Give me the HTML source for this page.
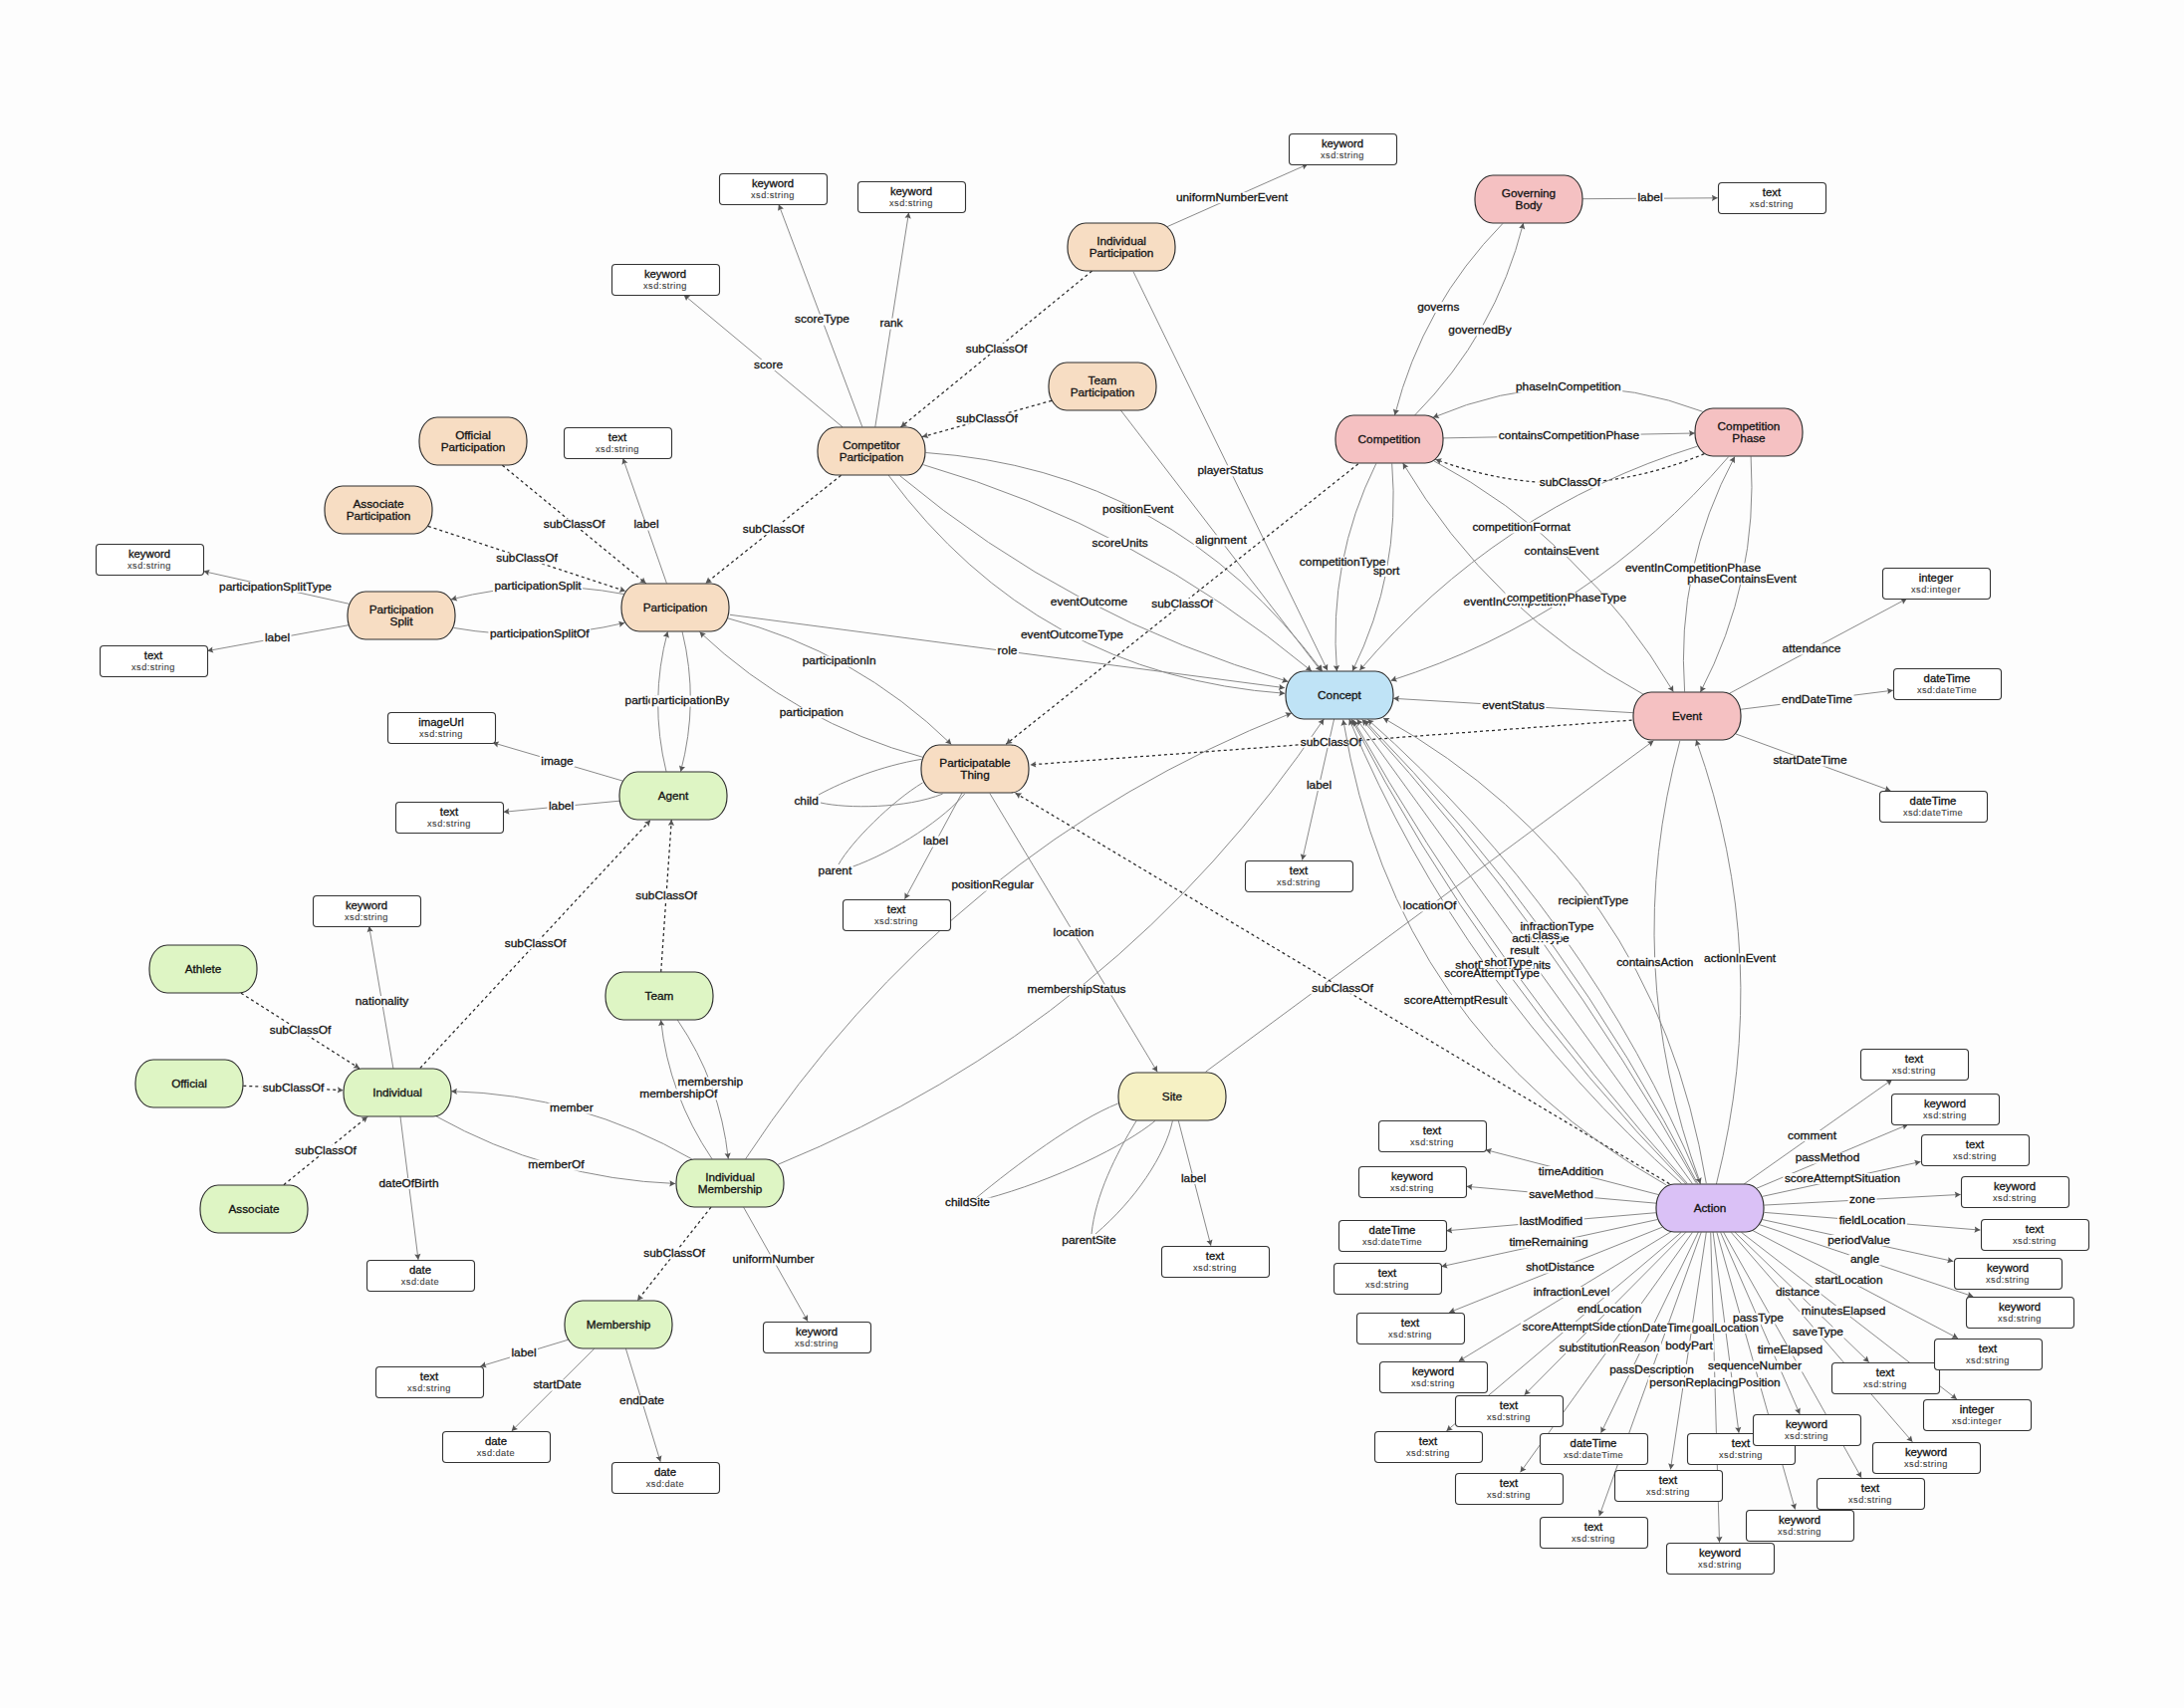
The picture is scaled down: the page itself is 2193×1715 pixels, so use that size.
<!DOCTYPE html><html><head><meta charset="utf-8"><style>html,body{margin:0;padding:0;background:#fdfdfd;}svg{display:block;}</style></head><body><svg width="2193" height="1715" viewBox="0 0 2193 1715" font-family="Liberation Sans, sans-serif"><rect x="0" y="0" width="2193" height="1715" fill="#fdfdfd"/><g><path d="M504.4 467.2Q576.5 526.5 648.6 585.8" fill="none" stroke="#2a2a2a" stroke-width="1.25" stroke-dasharray="3 3"/><path d="M429.9 528.4Q529.0 561.0 628.1 593.6" fill="none" stroke="#2a2a2a" stroke-width="1.25" stroke-dasharray="3 3"/><path d="M844.5 477.3Q776.5 531.5 708.5 585.7" fill="none" stroke="#2a2a2a" stroke-width="1.25" stroke-dasharray="3 3"/><path d="M1096.5 272.1Q1000.5 350.5 904.5 428.9" fill="none" stroke="#2a2a2a" stroke-width="1.25" stroke-dasharray="3 3"/><path d="M1056.0 402.3Q991.0 420.5 926.0 438.7" fill="none" stroke="#2a2a2a" stroke-width="1.25" stroke-dasharray="3 3"/><path d="M669.4 585.6Q647.5 522.9 625.5 460.2" fill="none" stroke="#8a8a8a" stroke-width="1.00"/><path d="M626.1 596.5Q539.1 579.7 452.9 601.9" fill="none" stroke="#8a8a8a" stroke-width="1.00"/><path d="M455.4 630.4Q542.3 645.7 627.2 625.4" fill="none" stroke="#8a8a8a" stroke-width="1.00"/><path d="M350.5 606.3Q277.4 590.0 204.4 573.6" fill="none" stroke="#8a8a8a" stroke-width="1.00"/><path d="M350.1 627.7Q279.1 640.6 208.2 653.6" fill="none" stroke="#8a8a8a" stroke-width="1.00"/><path d="M846.0 428.8Q766.3 362.4 686.6 296.0" fill="none" stroke="#8a8a8a" stroke-width="1.00"/><path d="M865.8 428.6Q823.9 317.0 781.9 205.3" fill="none" stroke="#8a8a8a" stroke-width="1.00"/><path d="M878.8 428.7Q895.7 321.1 912.5 213.5" fill="none" stroke="#8a8a8a" stroke-width="1.00"/><path d="M1172.1 227.6Q1242.5 196.3 1313.0 165.0" fill="none" stroke="#8a8a8a" stroke-width="1.00"/><path d="M730.4 620.7Q859.0 653.6 955.3 747.4" fill="none" stroke="#8a8a8a" stroke-width="1.00"/><path d="M926.9 760.4Q799.2 725.7 702.5 634.6" fill="none" stroke="#8a8a8a" stroke-width="1.00"/><path d="M966.0 796.2Q937.2 849.5 908.5 902.8" fill="none" stroke="#8a8a8a" stroke-width="1.00"/><path d="M993.9 796.7Q1078.0 936.5 1162.2 1076.3" fill="none" stroke="#8a8a8a" stroke-width="1.00"/><path d="M733.0 617.3Q1011.5 654.0 1290.0 690.7" fill="none" stroke="#8a8a8a" stroke-width="1.00"/><path d="M929.5 454.5Q1176.7 471.3 1327.7 673.8" fill="none" stroke="#8a8a8a" stroke-width="1.00"/><path d="M927.3 466.7Q1142.3 528.9 1317.0 673.9" fill="none" stroke="#8a8a8a" stroke-width="1.00"/><path d="M903.6 477.7Q1075.6 621.4 1293.4 684.4" fill="none" stroke="#8a8a8a" stroke-width="1.00"/><path d="M892.1 477.1Q1041.8 678.5 1290.2 696.3" fill="none" stroke="#8a8a8a" stroke-width="1.00"/><path d="M1138.0 272.8Q1235.5 473.0 1333.0 673.2" fill="none" stroke="#8a8a8a" stroke-width="1.00"/><path d="M1125.4 412.0Q1226.0 543.0 1326.6 674.0" fill="none" stroke="#8a8a8a" stroke-width="1.00"/><path d="M1589.3 199.7Q1657.0 199.2 1724.7 198.8" fill="none" stroke="#8a8a8a" stroke-width="1.00"/><path d="M1508.9 224.5Q1428.7 306.0 1400.5 416.9" fill="none" stroke="#8a8a8a" stroke-width="1.00"/><path d="M1420.7 416.9Q1501.7 335.0 1529.6 224.1" fill="none" stroke="#8a8a8a" stroke-width="1.00"/><path d="M1709.7 413.3Q1573.5 361.7 1438.9 419.3" fill="none" stroke="#8a8a8a" stroke-width="1.00"/><path d="M1449.1 439.9Q1575.5 437.5 1701.8 435.0" fill="none" stroke="#8a8a8a" stroke-width="1.00"/><path d="M1711.3 455.7Q1577.4 511.5 1441.4 461.2" fill="none" stroke="#2a2a2a" stroke-width="1.25" stroke-dasharray="3 3"/><path d="M1381.8 465.5Q1333.4 563.1 1342.4 673.9" fill="none" stroke="#8a8a8a" stroke-width="1.00"/><path d="M1397.7 465.5Q1406.8 575.2 1358.0 673.8" fill="none" stroke="#8a8a8a" stroke-width="1.00"/><path d="M1704.2 448.2Q1503.0 510.9 1365.3 673.1" fill="none" stroke="#8a8a8a" stroke-width="1.00"/><path d="M1735.6 458.7Q1597.3 619.2 1396.6 683.4" fill="none" stroke="#8a8a8a" stroke-width="1.00"/><path d="M1439.8 462.8Q1591.3 543.8 1680.3 694.6" fill="none" stroke="#8a8a8a" stroke-width="1.00"/><path d="M1650.0 697.1Q1497.4 614.5 1408.7 465.1" fill="none" stroke="#8a8a8a" stroke-width="1.00"/><path d="M1691.6 694.6Q1682.5 569.4 1741.9 458.6" fill="none" stroke="#8a8a8a" stroke-width="1.00"/><path d="M1758.1 458.3Q1765.8 583.5 1707.4 695.0" fill="none" stroke="#8a8a8a" stroke-width="1.00"/><path d="M1639.9 715.7Q1519.5 708.5 1399.1 701.3" fill="none" stroke="#8a8a8a" stroke-width="1.00"/><path d="M1363.8 465.8Q1187.0 606.5 1010.2 747.2" fill="none" stroke="#2a2a2a" stroke-width="1.25" stroke-dasharray="3 3"/><path d="M1736.5 696.3Q1825.6 648.7 1914.6 601.2" fill="none" stroke="#8a8a8a" stroke-width="1.00"/><path d="M1747.5 712.3Q1824.2 702.8 1900.8 693.2" fill="none" stroke="#8a8a8a" stroke-width="1.00"/><path d="M1742.8 736.9Q1820.6 765.4 1898.4 793.9" fill="none" stroke="#8a8a8a" stroke-width="1.00"/><path d="M1686.8 743.9Q1626.4 967.8 1707.5 1188.5" fill="none" stroke="#8a8a8a" stroke-width="1.00"/><path d="M1723.4 1189.0Q1781.0 961.2 1703.1 743.1" fill="none" stroke="#8a8a8a" stroke-width="1.00"/><path d="M1210.6 1076.2Q1435.5 910.0 1660.4 743.8" fill="none" stroke="#8a8a8a" stroke-width="1.00"/><path d="M1183.3 1125.4Q1199.6 1188.1 1215.9 1250.8" fill="none" stroke="#8a8a8a" stroke-width="1.00"/><path d="M1339.6 722.0Q1323.6 792.8 1307.6 863.6" fill="none" stroke="#8a8a8a" stroke-width="1.00"/><path d="M1676.4 1188.7Q1348.0 992.5 1019.6 796.3" fill="none" stroke="#2a2a2a" stroke-width="1.25" stroke-dasharray="3 3"/><path d="M748.7 1163.6Q953.9 852.2 1296.8 716.0" fill="none" stroke="#8a8a8a" stroke-width="1.00"/><path d="M781.1 1169.3Q1123.6 1028.8 1329.3 722.0" fill="none" stroke="#8a8a8a" stroke-width="1.00"/><path d="M1638.6 723.1Q1336.5 745.5 1034.4 767.9" fill="none" stroke="#2a2a2a" stroke-width="1.25" stroke-dasharray="3 3"/><rect x="1304.3" y="739.8" width="64.4" height="11" fill="#fdfdfd"/><text x="1336.5" y="748.5" text-anchor="middle" font-size="10.8" fill="#151515" stroke="#151515" stroke-width="0.3" textLength="61.4" lengthAdjust="spacingAndGlyphs">subClassOf</text><path d="M1713.3 1188.2Q1661.3 873.8 1389.0 720.9" fill="none" stroke="#8a8a8a" stroke-width="1.00"/><path d="M1707.1 1188.7Q1593.0 916.3 1373.4 722.4" fill="none" stroke="#8a8a8a" stroke-width="1.00"/><path d="M1704.7 1188.5Q1572.2 930.1 1369.9 723.0" fill="none" stroke="#8a8a8a" stroke-width="1.00"/><path d="M1703.0 1187.7Q1561.2 935.5 1367.7 722.6" fill="none" stroke="#8a8a8a" stroke-width="1.00"/><path d="M1699.3 1188.4Q1530.6 954.2 1362.6 722.3" fill="none" stroke="#8a8a8a" stroke-width="1.00"/><path d="M1694.2 1188.2Q1499.8 974.3 1358.9 723.1" fill="none" stroke="#8a8a8a" stroke-width="1.00"/><path d="M1693.1 1188.9Q1489.3 979.8 1357.2 722.3" fill="none" stroke="#8a8a8a" stroke-width="1.00"/><path d="M1688.5 1188.4Q1468.1 992.5 1354.8 722.1" fill="none" stroke="#8a8a8a" stroke-width="1.00"/><path d="M1672.9 1189.7Q1399.8 1034.9 1348.7 722.7" fill="none" stroke="#8a8a8a" stroke-width="1.00"/><path d="M694.7 1163.8Q582.1 1099.0 453.1 1095.7" fill="none" stroke="#8a8a8a" stroke-width="1.00"/><path d="M438.2 1121.0Q550.3 1183.6 678.1 1188.5" fill="none" stroke="#8a8a8a" stroke-width="1.00"/><path d="M715.0 1163.7Q671.6 1099.5 663.6 1024.2" fill="none" stroke="#8a8a8a" stroke-width="1.00"/><path d="M680.4 1024.3Q723.0 1086.6 731.3 1163.6" fill="none" stroke="#8a8a8a" stroke-width="1.00"/><path d="M714.0 1212.1Q677.0 1259.0 640.0 1305.9" fill="none" stroke="#2a2a2a" stroke-width="1.25" stroke-dasharray="3 3"/><path d="M746.7 1212.3Q778.9 1269.5 811.1 1326.7" fill="none" stroke="#8a8a8a" stroke-width="1.00"/><path d="M421.9 1072.4Q537.5 948.0 653.1 823.6" fill="none" stroke="#2a2a2a" stroke-width="1.25" stroke-dasharray="3 3"/><path d="M663.7 975.9Q669.0 899.5 674.3 823.1" fill="none" stroke="#2a2a2a" stroke-width="1.25" stroke-dasharray="3 3"/><path d="M242.0 997.2Q301.5 1035.0 361.0 1072.8" fill="none" stroke="#2a2a2a" stroke-width="1.25" stroke-dasharray="3 3"/><path d="M244.3 1090.3Q294.5 1092.5 344.7 1094.7" fill="none" stroke="#2a2a2a" stroke-width="1.25" stroke-dasharray="3 3"/><path d="M284.9 1189.7Q327.0 1155.5 369.1 1121.3" fill="none" stroke="#2a2a2a" stroke-width="1.25" stroke-dasharray="3 3"/><path d="M394.9 1072.8Q382.8 1001.4 370.6 930.0" fill="none" stroke="#8a8a8a" stroke-width="1.00"/><path d="M402.0 1121.3Q411.0 1193.1 420.0 1264.9" fill="none" stroke="#8a8a8a" stroke-width="1.00"/><path d="M625.3 784.1Q560.1 764.9 494.8 745.7" fill="none" stroke="#8a8a8a" stroke-width="1.00"/><path d="M622.0 804.2Q563.8 809.7 505.6 815.3" fill="none" stroke="#8a8a8a" stroke-width="1.00"/><path d="M669.0 774.7Q651.7 704.0 670.4 634.3" fill="none" stroke="#8a8a8a" stroke-width="1.00"/><path d="M685.1 634.4Q702.3 704.3 683.5 774.8" fill="none" stroke="#8a8a8a" stroke-width="1.00"/><path d="M570.6 1345.2Q526.5 1358.6 482.3 1372.0" fill="none" stroke="#8a8a8a" stroke-width="1.00"/><path d="M596.7 1354.2Q555.2 1395.5 513.7 1436.9" fill="none" stroke="#8a8a8a" stroke-width="1.00"/><path d="M628.4 1354.2Q645.8 1411.0 663.2 1467.8" fill="none" stroke="#8a8a8a" stroke-width="1.00"/><path d="M1665.4 1199.6Q1578.5 1177.0 1491.7 1154.5" fill="none" stroke="#8a8a8a" stroke-width="1.00"/><path d="M1663.2 1208.2Q1567.9 1199.8 1472.6 1191.3" fill="none" stroke="#8a8a8a" stroke-width="1.00"/><path d="M1662.8 1217.7Q1557.5 1226.7 1452.2 1235.8" fill="none" stroke="#8a8a8a" stroke-width="1.00"/><path d="M1664.4 1224.5Q1555.8 1248.1 1447.3 1271.7" fill="none" stroke="#8a8a8a" stroke-width="1.00"/><path d="M1669.6 1232.0Q1562.4 1274.9 1455.1 1317.8" fill="none" stroke="#8a8a8a" stroke-width="1.00"/><path d="M1678.1 1236.7Q1571.4 1301.8 1464.7 1366.8" fill="none" stroke="#8a8a8a" stroke-width="1.00"/><path d="M1692.8 1237.4Q1611.7 1319.1 1530.7 1400.7" fill="none" stroke="#8a8a8a" stroke-width="1.00"/><path d="M1688.0 1237.5Q1570.2 1337.2 1452.4 1436.9" fill="none" stroke="#8a8a8a" stroke-width="1.00"/><path d="M1705.3 1237.2Q1656.5 1338.0 1607.6 1438.8" fill="none" stroke="#8a8a8a" stroke-width="1.00"/><path d="M1720.1 1237.2Q1733.0 1338.0 1746.0 1438.8" fill="none" stroke="#8a8a8a" stroke-width="1.00"/><path d="M1727.7 1237.5Q1767.4 1328.7 1807.2 1419.9" fill="none" stroke="#8a8a8a" stroke-width="1.00"/><path d="M1742.1 1237.3Q1809.4 1302.5 1876.7 1367.7" fill="none" stroke="#8a8a8a" stroke-width="1.00"/><path d="M1760.2 1235.7Q1863.1 1289.7 1966.0 1343.8" fill="none" stroke="#8a8a8a" stroke-width="1.00"/><path d="M1748.5 1237.4Q1856.7 1321.2 1964.9 1404.9" fill="none" stroke="#8a8a8a" stroke-width="1.00"/><path d="M1738.2 1237.4Q1829.3 1342.6 1920.4 1447.8" fill="none" stroke="#8a8a8a" stroke-width="1.00"/><path d="M1699.3 1237.6Q1613.0 1358.0 1526.6 1478.3" fill="none" stroke="#8a8a8a" stroke-width="1.00"/><path d="M1713.3 1237.4Q1695.4 1356.4 1677.4 1475.5" fill="none" stroke="#8a8a8a" stroke-width="1.00"/><path d="M1730.7 1237.4Q1799.9 1360.5 1869.1 1483.7" fill="none" stroke="#8a8a8a" stroke-width="1.00"/><path d="M1724.0 1237.7Q1763.2 1376.6 1802.5 1515.6" fill="none" stroke="#8a8a8a" stroke-width="1.00"/><path d="M1708.2 1237.4Q1657.0 1379.8 1605.9 1522.2" fill="none" stroke="#8a8a8a" stroke-width="1.00"/><path d="M1717.7 1237.6Q1722.1 1393.1 1726.5 1548.7" fill="none" stroke="#8a8a8a" stroke-width="1.00"/><path d="M1766.8 1229.7Q1874.1 1265.8 1981.3 1301.8" fill="none" stroke="#8a8a8a" stroke-width="1.00"/><path d="M1769.3 1224.5Q1865.4 1245.5 1961.4 1266.5" fill="none" stroke="#8a8a8a" stroke-width="1.00"/><path d="M1771.6 1217.4Q1880.0 1226.2 1988.4 1235.1" fill="none" stroke="#8a8a8a" stroke-width="1.00"/><path d="M1771.3 1210.1Q1870.0 1204.8 1968.7 1199.4" fill="none" stroke="#8a8a8a" stroke-width="1.00"/><path d="M1769.5 1201.4Q1849.0 1184.0 1928.5 1166.5" fill="none" stroke="#8a8a8a" stroke-width="1.00"/><path d="M1763.6 1193.3Q1839.7 1161.3 1915.8 1129.2" fill="none" stroke="#8a8a8a" stroke-width="1.00"/><path d="M1751.3 1188.8Q1825.7 1136.4 1900.0 1084.0" fill="none" stroke="#8a8a8a" stroke-width="1.00"/><path d="M 925.5 762.3 C 885 769, 848 784, 822 798 M 824 806 C 850 812, 910 812, 946.6 797.1" fill="none" stroke="#8a8a8a" stroke-width="1.00"/><path d="M 926.5 785.9 C 895 805, 855 845, 842 868 M 854 871 C 900 855, 950 820, 968.7 797.1" fill="none" stroke="#8a8a8a" stroke-width="1.00"/><path d="M 1122.7 1108 C 1080 1125, 1020 1170, 980 1203 M 989 1204 C 1060 1185, 1130 1150, 1159.9 1125.5" fill="none" stroke="#8a8a8a" stroke-width="1.00"/><path d="M 1141 1125.5 C 1120 1160, 1100 1200, 1096 1239 M 1100 1239 C 1140 1205, 1170 1160, 1177.4 1125.5" fill="none" stroke="#8a8a8a" stroke-width="1.00"/></g><g><path d="M648.6 585.8 L642.1 584.5 L644.8 582.7 L646.1 579.7 Z" fill="#555555"/><path d="M628.1 593.6 L621.6 594.7 L623.4 592.1 L623.5 588.8 Z" fill="#555555"/><path d="M708.5 585.7 L711.1 579.6 L712.4 582.6 L715.0 584.5 Z" fill="#555555"/><path d="M904.5 428.9 L907.0 422.8 L908.3 425.8 L910.9 427.6 Z" fill="#555555"/><path d="M926.0 438.7 L930.8 434.2 L930.8 437.4 L932.5 440.1 Z" fill="#555555"/><path d="M625.5 460.2 L630.4 464.7 L627.1 464.8 L624.5 466.7 Z" fill="#555555"/><path d="M452.9 601.9 L457.7 597.4 L457.6 600.6 L459.3 603.4 Z" fill="#555555"/><path d="M627.2 625.4 L622.3 629.8 L622.5 626.5 L620.9 623.7 Z" fill="#555555"/><path d="M204.4 573.6 L210.7 571.9 L209.2 574.7 L209.4 577.9 Z" fill="#555555"/><path d="M208.2 653.6 L213.3 649.5 L213.0 652.7 L214.4 655.6 Z" fill="#555555"/><path d="M686.6 296.0 L693.1 297.4 L690.4 299.2 L689.1 302.1 Z" fill="#555555"/><path d="M781.9 205.3 L786.9 209.6 L783.7 209.9 L781.1 211.8 Z" fill="#555555"/><path d="M912.5 213.5 L914.7 219.7 L911.7 218.3 L908.5 218.7 Z" fill="#555555"/><path d="M1313.0 165.0 L1309.0 170.2 L1308.6 167.0 L1306.5 164.5 Z" fill="#555555"/><path d="M955.3 747.4 L949.0 745.6 L951.8 744.0 L953.3 741.2 Z" fill="#555555"/><path d="M702.5 634.6 L708.9 636.3 L706.1 637.9 L704.6 640.8 Z" fill="#555555"/><path d="M908.5 902.8 L908.5 896.2 L910.8 898.4 L914.0 899.1 Z" fill="#555555"/><path d="M1162.2 1076.3 L1156.5 1073.0 L1159.6 1072.1 L1161.8 1069.8 Z" fill="#555555"/><path d="M1290.0 690.7 L1283.8 693.1 L1285.1 690.1 L1284.6 686.9 Z" fill="#555555"/><path d="M1327.7 673.8 L1321.8 671.0 L1324.8 669.8 L1326.7 667.3 Z" fill="#555555"/><path d="M1317.0 673.9 L1310.5 672.6 L1313.2 670.8 L1314.5 667.8 Z" fill="#555555"/><path d="M1293.4 684.4 L1286.9 685.7 L1288.7 683.0 L1288.7 679.8 Z" fill="#555555"/><path d="M1290.2 696.3 L1284.2 699.0 L1285.4 695.9 L1284.7 692.8 Z" fill="#555555"/><path d="M1333.0 673.2 L1327.6 669.4 L1330.8 668.8 L1333.2 666.7 Z" fill="#555555"/><path d="M1326.6 674.0 L1320.6 671.3 L1323.6 670.1 L1325.5 667.5 Z" fill="#555555"/><path d="M1724.7 198.8 L1718.9 202.0 L1719.8 198.9 L1718.9 195.8 Z" fill="#555555"/><path d="M1400.5 416.9 L1398.9 410.5 L1401.7 412.1 L1404.9 412.0 Z" fill="#555555"/><path d="M1529.6 224.1 L1531.2 230.4 L1528.4 228.8 L1525.2 228.9 Z" fill="#555555"/><path d="M1438.9 419.3 L1443.0 414.2 L1443.4 417.4 L1445.5 419.9 Z" fill="#555555"/><path d="M1701.8 435.0 L1696.1 438.3 L1697.0 435.1 L1696.0 432.1 Z" fill="#555555"/><path d="M1441.4 461.2 L1447.9 460.3 L1446.0 462.9 L1445.8 466.2 Z" fill="#555555"/><path d="M1342.4 673.9 L1338.8 668.4 L1342.0 669.0 L1345.0 667.9 Z" fill="#555555"/><path d="M1358.0 673.8 L1357.8 667.2 L1360.1 669.4 L1363.3 670.0 Z" fill="#555555"/><path d="M1365.3 673.1 L1366.7 666.7 L1368.5 669.4 L1371.4 670.7 Z" fill="#555555"/><path d="M1396.6 683.4 L1401.2 678.6 L1401.3 681.9 L1403.1 684.5 Z" fill="#555555"/><path d="M1680.3 694.6 L1674.6 691.2 L1677.8 690.4 L1680.0 688.0 Z" fill="#555555"/><path d="M1408.7 465.1 L1414.3 468.5 L1411.2 469.3 L1409.0 471.7 Z" fill="#555555"/><path d="M1741.9 458.6 L1741.9 465.2 L1739.6 462.9 L1736.4 462.2 Z" fill="#555555"/><path d="M1707.4 695.0 L1707.4 688.4 L1709.7 690.6 L1712.9 691.3 Z" fill="#555555"/><path d="M1399.1 701.3 L1405.1 698.5 L1404.0 701.5 L1404.7 704.7 Z" fill="#555555"/><path d="M1010.2 747.2 L1012.8 741.1 L1014.0 744.1 L1016.7 746.0 Z" fill="#555555"/><path d="M1914.6 601.2 L1911.0 606.7 L1910.3 603.5 L1908.0 601.2 Z" fill="#555555"/><path d="M1900.8 693.2 L1895.5 697.0 L1896.0 693.8 L1894.7 690.9 Z" fill="#555555"/><path d="M1898.4 793.9 L1891.9 794.8 L1893.8 792.2 L1894.0 789.0 Z" fill="#555555"/><path d="M1707.5 1188.5 L1702.6 1184.1 L1705.9 1183.9 L1708.5 1182.0 Z" fill="#555555"/><path d="M1703.1 743.1 L1707.9 747.5 L1704.7 747.7 L1702.1 749.6 Z" fill="#555555"/><path d="M1660.4 743.8 L1657.6 749.8 L1656.5 746.7 L1653.9 744.8 Z" fill="#555555"/><path d="M1215.9 1250.8 L1211.5 1245.9 L1214.7 1246.0 L1217.5 1244.4 Z" fill="#555555"/><path d="M1307.6 863.6 L1305.8 857.3 L1308.7 858.8 L1311.9 858.6 Z" fill="#555555"/><path d="M1019.6 796.3 L1026.2 796.6 L1023.8 798.8 L1023.0 801.9 Z" fill="#555555"/><path d="M1296.8 716.0 L1292.6 721.0 L1292.3 717.8 L1290.3 715.3 Z" fill="#555555"/><path d="M1329.3 722.0 L1328.6 728.6 L1326.5 726.1 L1323.4 725.1 Z" fill="#555555"/><path d="M1034.4 767.9 L1040.0 764.4 L1039.3 767.5 L1040.4 770.6 Z" fill="#555555"/><path d="M1389.0 720.9 L1395.5 721.1 L1393.2 723.3 L1392.5 726.5 Z" fill="#555555"/><path d="M1373.4 722.4 L1379.8 723.9 L1377.1 725.6 L1375.7 728.6 Z" fill="#555555"/><path d="M1369.9 723.0 L1376.2 725.0 L1373.3 726.5 L1371.7 729.4 Z" fill="#555555"/><path d="M1367.7 722.6 L1373.9 724.8 L1371.0 726.3 L1369.3 729.0 Z" fill="#555555"/><path d="M1362.6 722.3 L1368.5 725.2 L1365.5 726.3 L1363.5 728.9 Z" fill="#555555"/><path d="M1358.9 723.1 L1364.5 726.7 L1361.3 727.4 L1359.1 729.7 Z" fill="#555555"/><path d="M1357.2 722.3 L1362.7 726.0 L1359.5 726.7 L1357.1 728.9 Z" fill="#555555"/><path d="M1354.8 722.1 L1359.9 726.3 L1356.7 726.6 L1354.2 728.7 Z" fill="#555555"/><path d="M1348.7 722.7 L1352.7 727.9 L1349.4 727.5 L1346.5 728.9 Z" fill="#555555"/><path d="M453.1 1095.7 L459.0 1092.8 L458.0 1095.8 L458.8 1099.0 Z" fill="#555555"/><path d="M678.1 1188.5 L672.2 1191.4 L673.2 1188.3 L672.5 1185.2 Z" fill="#555555"/><path d="M663.6 1024.2 L667.3 1029.6 L664.1 1029.1 L661.1 1030.3 Z" fill="#555555"/><path d="M731.3 1163.6 L727.6 1158.2 L730.7 1158.7 L733.7 1157.5 Z" fill="#555555"/><path d="M640.0 1305.9 L641.2 1299.4 L643.1 1302.0 L646.1 1303.2 Z" fill="#555555"/><path d="M811.1 1326.7 L805.5 1323.1 L808.7 1322.4 L810.9 1320.1 Z" fill="#555555"/><path d="M653.1 823.6 L651.5 829.9 L649.8 827.2 L646.9 825.7 Z" fill="#555555"/><path d="M674.3 823.1 L677.0 829.1 L674.0 828.0 L670.8 828.7 Z" fill="#555555"/><path d="M361.0 1072.8 L354.4 1072.3 L356.8 1070.2 L357.7 1067.1 Z" fill="#555555"/><path d="M344.7 1094.7 L338.7 1097.5 L339.8 1094.4 L339.0 1091.3 Z" fill="#555555"/><path d="M369.1 1121.3 L366.6 1127.3 L365.3 1124.4 L362.7 1122.5 Z" fill="#555555"/><path d="M370.6 930.0 L374.7 935.2 L371.5 934.8 L368.6 936.2 Z" fill="#555555"/><path d="M420.0 1264.9 L416.2 1259.5 L419.4 1260.0 L422.4 1258.8 Z" fill="#555555"/><path d="M494.8 745.7 L501.3 744.4 L499.5 747.1 L499.5 750.4 Z" fill="#555555"/><path d="M505.6 815.3 L511.0 811.6 L510.4 814.8 L511.6 817.8 Z" fill="#555555"/><path d="M670.4 634.3 L671.9 640.7 L669.1 639.1 L665.9 639.1 Z" fill="#555555"/><path d="M683.5 774.8 L682.0 768.4 L684.8 770.0 L688.0 770.0 Z" fill="#555555"/><path d="M482.3 1372.0 L487.0 1367.3 L487.0 1370.6 L488.7 1373.3 Z" fill="#555555"/><path d="M513.7 1436.9 L515.6 1430.6 L517.2 1433.4 L520.0 1435.0 Z" fill="#555555"/><path d="M663.2 1467.8 L658.5 1463.1 L661.7 1463.1 L664.4 1461.3 Z" fill="#555555"/><path d="M1491.7 1154.5 L1498.1 1152.9 L1496.4 1155.7 L1496.5 1158.9 Z" fill="#555555"/><path d="M1472.6 1191.3 L1478.6 1188.8 L1477.4 1191.8 L1478.1 1194.9 Z" fill="#555555"/><path d="M1452.2 1235.8 L1457.7 1232.2 L1457.1 1235.4 L1458.3 1238.4 Z" fill="#555555"/><path d="M1447.3 1271.7 L1452.3 1267.4 L1452.1 1270.6 L1453.6 1273.5 Z" fill="#555555"/><path d="M1455.1 1317.8 L1459.4 1312.8 L1459.7 1316.0 L1461.7 1318.6 Z" fill="#555555"/><path d="M1464.7 1366.8 L1468.1 1361.2 L1468.9 1364.3 L1471.3 1366.4 Z" fill="#555555"/><path d="M1530.7 1400.7 L1532.5 1394.4 L1534.1 1397.3 L1536.9 1398.8 Z" fill="#555555"/><path d="M1452.4 1436.9 L1454.8 1430.8 L1456.1 1433.8 L1458.8 1435.6 Z" fill="#555555"/><path d="M1607.6 1438.8 L1607.3 1432.2 L1609.7 1434.4 L1612.9 1434.9 Z" fill="#555555"/><path d="M1746.0 1438.8 L1742.2 1433.4 L1745.4 1433.9 L1748.3 1432.7 Z" fill="#555555"/><path d="M1807.2 1419.9 L1802.1 1415.8 L1805.3 1415.4 L1807.7 1413.4 Z" fill="#555555"/><path d="M1876.7 1367.7 L1870.4 1365.9 L1873.2 1364.3 L1874.7 1361.5 Z" fill="#555555"/><path d="M1966.0 1343.8 L1959.4 1343.8 L1961.7 1341.5 L1962.3 1338.3 Z" fill="#555555"/><path d="M1964.9 1404.9 L1958.4 1403.8 L1961.0 1401.9 L1962.2 1398.9 Z" fill="#555555"/><path d="M1920.4 1447.8 L1914.3 1445.5 L1917.2 1444.1 L1919.0 1441.4 Z" fill="#555555"/><path d="M1526.6 1478.3 L1527.5 1471.8 L1529.5 1474.3 L1532.5 1475.4 Z" fill="#555555"/><path d="M1677.4 1475.5 L1675.2 1469.3 L1678.1 1470.6 L1681.3 1470.2 Z" fill="#555555"/><path d="M1869.1 1483.7 L1863.6 1480.2 L1866.7 1479.5 L1869.0 1477.2 Z" fill="#555555"/><path d="M1802.5 1515.6 L1797.9 1510.8 L1801.2 1510.9 L1803.9 1509.2 Z" fill="#555555"/><path d="M1605.9 1522.2 L1604.9 1515.7 L1607.5 1517.6 L1610.7 1517.8 Z" fill="#555555"/><path d="M1726.5 1548.7 L1723.3 1543.0 L1726.4 1543.8 L1729.5 1542.8 Z" fill="#555555"/><path d="M1981.3 1301.8 L1974.9 1302.9 L1976.7 1300.3 L1976.8 1297.0 Z" fill="#555555"/><path d="M1961.4 1266.5 L1955.1 1268.3 L1956.6 1265.5 L1956.4 1262.3 Z" fill="#555555"/><path d="M1988.4 1235.1 L1982.4 1237.7 L1983.5 1234.7 L1982.9 1231.5 Z" fill="#555555"/><path d="M1968.7 1199.4 L1963.1 1202.8 L1963.8 1199.7 L1962.7 1196.6 Z" fill="#555555"/><path d="M1928.5 1166.5 L1923.5 1170.8 L1923.7 1167.5 L1922.1 1164.7 Z" fill="#555555"/><path d="M1915.8 1129.2 L1911.7 1134.3 L1911.3 1131.1 L1909.3 1128.6 Z" fill="#555555"/><path d="M1900.0 1084.0 L1897.0 1089.9 L1896.0 1086.9 L1893.4 1084.8 Z" fill="#555555"/></g><g><rect x="544.3" y="520.8" width="64.4" height="11" fill="#fdfdfd"/><text x="576.5" y="529.5" text-anchor="middle" font-size="10.8" fill="#151515" stroke="#151515" stroke-width="0.3" textLength="61.4" lengthAdjust="spacingAndGlyphs">subClassOf</text><rect x="496.8" y="555.3" width="64.4" height="11" fill="#fdfdfd"/><text x="529.0" y="564.0" text-anchor="middle" font-size="10.8" fill="#151515" stroke="#151515" stroke-width="0.3" textLength="61.4" lengthAdjust="spacingAndGlyphs">subClassOf</text><rect x="744.3" y="525.8" width="64.4" height="11" fill="#fdfdfd"/><text x="776.5" y="534.5" text-anchor="middle" font-size="10.8" fill="#151515" stroke="#151515" stroke-width="0.3" textLength="61.4" lengthAdjust="spacingAndGlyphs">subClassOf</text><rect x="968.3" y="344.8" width="64.4" height="11" fill="#fdfdfd"/><text x="1000.5" y="353.5" text-anchor="middle" font-size="10.8" fill="#151515" stroke="#151515" stroke-width="0.3" textLength="61.4" lengthAdjust="spacingAndGlyphs">subClassOf</text><rect x="958.8" y="414.8" width="64.4" height="11" fill="#fdfdfd"/><text x="991.0" y="423.5" text-anchor="middle" font-size="10.8" fill="#151515" stroke="#151515" stroke-width="0.3" textLength="61.4" lengthAdjust="spacingAndGlyphs">subClassOf</text><rect x="634.9" y="521.5" width="28.1" height="11" fill="#fdfdfd"/><text x="649.0" y="530.2" text-anchor="middle" font-size="10.8" fill="#151515" stroke="#151515" stroke-width="0.3" textLength="25.1" lengthAdjust="spacingAndGlyphs">label</text><rect x="494.9" y="583.7" width="90.2" height="11" fill="#fdfdfd"/><text x="540.0" y="592.4" text-anchor="middle" font-size="10.8" fill="#151515" stroke="#151515" stroke-width="0.3" textLength="87.2" lengthAdjust="spacingAndGlyphs">participationSplit</text><rect x="490.4" y="631.1" width="102.7" height="11" fill="#fdfdfd"/><text x="541.8" y="639.8" text-anchor="middle" font-size="10.8" fill="#151515" stroke="#151515" stroke-width="0.3" textLength="99.7" lengthAdjust="spacingAndGlyphs">participationSplitOf</text><rect x="218.5" y="584.0" width="115.9" height="11" fill="#fdfdfd"/><text x="276.5" y="592.8" text-anchor="middle" font-size="10.8" fill="#151515" stroke="#151515" stroke-width="0.3" textLength="112.9" lengthAdjust="spacingAndGlyphs">participationSplitType</text><rect x="264.4" y="635.0" width="28.1" height="11" fill="#fdfdfd"/><text x="278.5" y="643.8" text-anchor="middle" font-size="10.8" fill="#151515" stroke="#151515" stroke-width="0.3" textLength="25.1" lengthAdjust="spacingAndGlyphs">label</text><rect x="755.5" y="361.1" width="32.1" height="11" fill="#fdfdfd"/><text x="771.5" y="369.8" text-anchor="middle" font-size="10.8" fill="#151515" stroke="#151515" stroke-width="0.3" textLength="29.1" lengthAdjust="spacingAndGlyphs">score</text><rect x="796.6" y="315.6" width="57.8" height="11" fill="#fdfdfd"/><text x="825.5" y="324.2" text-anchor="middle" font-size="10.8" fill="#151515" stroke="#151515" stroke-width="0.3" textLength="54.8" lengthAdjust="spacingAndGlyphs">scoreType</text><rect x="881.9" y="319.6" width="26.1" height="11" fill="#fdfdfd"/><text x="895.0" y="328.2" text-anchor="middle" font-size="10.8" fill="#151515" stroke="#151515" stroke-width="0.3" textLength="23.1" lengthAdjust="spacingAndGlyphs">rank</text><rect x="1179.4" y="193.1" width="115.2" height="11" fill="#fdfdfd"/><text x="1237.0" y="201.8" text-anchor="middle" font-size="10.8" fill="#151515" stroke="#151515" stroke-width="0.3" textLength="112.2" lengthAdjust="spacingAndGlyphs">uniformNumberEvent</text><rect x="804.2" y="658.6" width="77.0" height="11" fill="#fdfdfd"/><text x="842.7" y="667.3" text-anchor="middle" font-size="10.8" fill="#151515" stroke="#151515" stroke-width="0.3" textLength="74.0" lengthAdjust="spacingAndGlyphs">participationIn</text><rect x="781.3" y="710.2" width="67.1" height="11" fill="#fdfdfd"/><text x="814.8" y="718.9" text-anchor="middle" font-size="10.8" fill="#151515" stroke="#151515" stroke-width="0.3" textLength="64.1" lengthAdjust="spacingAndGlyphs">participation</text><rect x="925.4" y="839.5" width="28.1" height="11" fill="#fdfdfd"/><text x="939.5" y="848.2" text-anchor="middle" font-size="10.8" fill="#151515" stroke="#151515" stroke-width="0.3" textLength="25.1" lengthAdjust="spacingAndGlyphs">label</text><rect x="1056.0" y="930.8" width="43.9" height="11" fill="#fdfdfd"/><text x="1078.0" y="939.5" text-anchor="middle" font-size="10.8" fill="#151515" stroke="#151515" stroke-width="0.3" textLength="40.9" lengthAdjust="spacingAndGlyphs">location</text><rect x="1000.1" y="648.3" width="22.8" height="11" fill="#fdfdfd"/><text x="1011.5" y="657.0" text-anchor="middle" font-size="10.8" fill="#151515" stroke="#151515" stroke-width="0.3" textLength="19.8" lengthAdjust="spacingAndGlyphs">role</text><rect x="1105.5" y="506.7" width="74.3" height="11" fill="#fdfdfd"/><text x="1142.7" y="515.4" text-anchor="middle" font-size="10.8" fill="#151515" stroke="#151515" stroke-width="0.3" textLength="71.3" lengthAdjust="spacingAndGlyphs">positionEvent</text><rect x="1095.0" y="539.9" width="59.1" height="11" fill="#fdfdfd"/><text x="1124.6" y="548.6" text-anchor="middle" font-size="10.8" fill="#151515" stroke="#151515" stroke-width="0.3" textLength="56.1" lengthAdjust="spacingAndGlyphs">scoreUnits</text><rect x="1053.4" y="598.9" width="80.3" height="11" fill="#fdfdfd"/><text x="1093.5" y="607.6" text-anchor="middle" font-size="10.8" fill="#151515" stroke="#151515" stroke-width="0.3" textLength="77.3" lengthAdjust="spacingAndGlyphs">eventOutcome</text><rect x="1023.4" y="632.2" width="106.0" height="11" fill="#fdfdfd"/><text x="1076.4" y="640.9" text-anchor="middle" font-size="10.8" fill="#151515" stroke="#151515" stroke-width="0.3" textLength="103.0" lengthAdjust="spacingAndGlyphs">eventOutcomeType</text><rect x="1201.0" y="467.3" width="69.0" height="11" fill="#fdfdfd"/><text x="1235.5" y="476.0" text-anchor="middle" font-size="10.8" fill="#151515" stroke="#151515" stroke-width="0.3" textLength="66.0" lengthAdjust="spacingAndGlyphs">playerStatus</text><rect x="1198.7" y="537.3" width="54.5" height="11" fill="#fdfdfd"/><text x="1226.0" y="546.0" text-anchor="middle" font-size="10.8" fill="#151515" stroke="#151515" stroke-width="0.3" textLength="51.5" lengthAdjust="spacingAndGlyphs">alignment</text><rect x="1642.9" y="193.6" width="28.1" height="11" fill="#fdfdfd"/><text x="1657.0" y="202.2" text-anchor="middle" font-size="10.8" fill="#151515" stroke="#151515" stroke-width="0.3" textLength="25.1" lengthAdjust="spacingAndGlyphs">label</text><rect x="1421.7" y="303.1" width="45.3" height="11" fill="#fdfdfd"/><text x="1444.3" y="311.8" text-anchor="middle" font-size="10.8" fill="#151515" stroke="#151515" stroke-width="0.3" textLength="42.3" lengthAdjust="spacingAndGlyphs">governs</text><rect x="1452.8" y="326.3" width="66.4" height="11" fill="#fdfdfd"/><text x="1486.0" y="335.0" text-anchor="middle" font-size="10.8" fill="#151515" stroke="#151515" stroke-width="0.3" textLength="63.4" lengthAdjust="spacingAndGlyphs">governedBy</text><rect x="1520.5" y="383.3" width="108.7" height="11" fill="#fdfdfd"/><text x="1574.8" y="392.0" text-anchor="middle" font-size="10.8" fill="#151515" stroke="#151515" stroke-width="0.3" textLength="105.7" lengthAdjust="spacingAndGlyphs">phaseInCompetition</text><rect x="1503.3" y="431.8" width="144.3" height="11" fill="#fdfdfd"/><text x="1575.5" y="440.5" text-anchor="middle" font-size="10.8" fill="#151515" stroke="#151515" stroke-width="0.3" textLength="141.3" lengthAdjust="spacingAndGlyphs">containsCompetitionPhase</text><rect x="1544.2" y="479.3" width="64.4" height="11" fill="#fdfdfd"/><text x="1576.4" y="488.0" text-anchor="middle" font-size="10.8" fill="#151515" stroke="#151515" stroke-width="0.3" textLength="61.4" lengthAdjust="spacingAndGlyphs">subClassOf</text><rect x="1377.4" y="568.0" width="29.4" height="11" fill="#fdfdfd"/><text x="1392.1" y="576.7" text-anchor="middle" font-size="10.8" fill="#151515" stroke="#151515" stroke-width="0.3" textLength="26.4" lengthAdjust="spacingAndGlyphs">sport</text><rect x="1476.9" y="524.4" width="101.4" height="11" fill="#fdfdfd"/><text x="1527.6" y="533.1" text-anchor="middle" font-size="10.8" fill="#151515" stroke="#151515" stroke-width="0.3" textLength="98.4" lengthAdjust="spacingAndGlyphs">competitionFormat</text><rect x="1529.1" y="548.2" width="77.6" height="11" fill="#fdfdfd"/><text x="1567.9" y="556.9" text-anchor="middle" font-size="10.8" fill="#151515" stroke="#151515" stroke-width="0.3" textLength="74.6" lengthAdjust="spacingAndGlyphs">containsEvent</text><rect x="1468.1" y="599.1" width="105.4" height="11" fill="#fdfdfd"/><text x="1520.8" y="607.8" text-anchor="middle" font-size="10.8" fill="#151515" stroke="#151515" stroke-width="0.3" textLength="102.4" lengthAdjust="spacingAndGlyphs">eventInCompetition</text><rect x="1630.5" y="565.5" width="139.0" height="11" fill="#fdfdfd"/><text x="1700.0" y="574.2" text-anchor="middle" font-size="10.8" fill="#151515" stroke="#151515" stroke-width="0.3" textLength="136.0" lengthAdjust="spacingAndGlyphs">eventInCompetitionPhase</text><rect x="1486.6" y="702.8" width="65.7" height="11" fill="#fdfdfd"/><text x="1519.5" y="711.5" text-anchor="middle" font-size="10.8" fill="#151515" stroke="#151515" stroke-width="0.3" textLength="62.7" lengthAdjust="spacingAndGlyphs">eventStatus</text><rect x="1154.8" y="600.8" width="64.4" height="11" fill="#fdfdfd"/><text x="1187.0" y="609.5" text-anchor="middle" font-size="10.8" fill="#151515" stroke="#151515" stroke-width="0.3" textLength="61.4" lengthAdjust="spacingAndGlyphs">subClassOf</text><rect x="1788.1" y="646.5" width="61.8" height="11" fill="#fdfdfd"/><text x="1819.0" y="655.2" text-anchor="middle" font-size="10.8" fill="#151515" stroke="#151515" stroke-width="0.3" textLength="58.8" lengthAdjust="spacingAndGlyphs">attendance</text><rect x="1787.6" y="697.0" width="73.9" height="11" fill="#fdfdfd"/><text x="1824.5" y="705.8" text-anchor="middle" font-size="10.8" fill="#151515" stroke="#151515" stroke-width="0.3" textLength="70.9" lengthAdjust="spacingAndGlyphs">endDateTime</text><rect x="1778.9" y="758.5" width="77.2" height="11" fill="#fdfdfd"/><text x="1817.5" y="767.2" text-anchor="middle" font-size="10.8" fill="#151515" stroke="#151515" stroke-width="0.3" textLength="74.2" lengthAdjust="spacingAndGlyphs">startDateTime</text><rect x="1621.7" y="961.3" width="80.3" height="11" fill="#fdfdfd"/><text x="1661.8" y="970.0" text-anchor="middle" font-size="10.8" fill="#151515" stroke="#151515" stroke-width="0.3" textLength="77.3" lengthAdjust="spacingAndGlyphs">containsAction</text><rect x="1709.6" y="957.3" width="75.0" height="11" fill="#fdfdfd"/><text x="1747.1" y="966.0" text-anchor="middle" font-size="10.8" fill="#151515" stroke="#151515" stroke-width="0.3" textLength="72.0" lengthAdjust="spacingAndGlyphs">actionInEvent</text><rect x="1407.3" y="904.3" width="56.5" height="11" fill="#fdfdfd"/><text x="1435.5" y="913.0" text-anchor="middle" font-size="10.8" fill="#151515" stroke="#151515" stroke-width="0.3" textLength="53.5" lengthAdjust="spacingAndGlyphs">locationOf</text><rect x="1184.4" y="1178.0" width="28.1" height="11" fill="#fdfdfd"/><text x="1198.5" y="1186.8" text-anchor="middle" font-size="10.8" fill="#151515" stroke="#151515" stroke-width="0.3" textLength="25.1" lengthAdjust="spacingAndGlyphs">label</text><rect x="1310.4" y="783.0" width="28.1" height="11" fill="#fdfdfd"/><text x="1324.5" y="791.8" text-anchor="middle" font-size="10.8" fill="#151515" stroke="#151515" stroke-width="0.3" textLength="25.1" lengthAdjust="spacingAndGlyphs">label</text><rect x="1315.8" y="986.8" width="64.4" height="11" fill="#fdfdfd"/><text x="1348.0" y="995.5" text-anchor="middle" font-size="10.8" fill="#151515" stroke="#151515" stroke-width="0.3" textLength="61.4" lengthAdjust="spacingAndGlyphs">subClassOf</text><rect x="953.9" y="883.5" width="85.6" height="11" fill="#fdfdfd"/><text x="996.7" y="892.2" text-anchor="middle" font-size="10.8" fill="#151515" stroke="#151515" stroke-width="0.3" textLength="82.6" lengthAdjust="spacingAndGlyphs">positionRegular</text><rect x="1030.0" y="988.3" width="102.0" height="11" fill="#fdfdfd"/><text x="1081.0" y="997.0" text-anchor="middle" font-size="10.8" fill="#151515" stroke="#151515" stroke-width="0.3" textLength="99.0" lengthAdjust="spacingAndGlyphs">membershipStatus</text><rect x="1563.0" y="899.4" width="73.7" height="11" fill="#fdfdfd"/><text x="1599.8" y="908.1" text-anchor="middle" font-size="10.8" fill="#151515" stroke="#151515" stroke-width="0.3" textLength="70.7" lengthAdjust="spacingAndGlyphs">recipientType</text><rect x="1524.9" y="925.7" width="77.0" height="11" fill="#fdfdfd"/><text x="1563.4" y="934.4" text-anchor="middle" font-size="10.8" fill="#151515" stroke="#151515" stroke-width="0.3" textLength="74.0" lengthAdjust="spacingAndGlyphs">infractionType</text><rect x="1516.7" y="937.7" width="60.5" height="11" fill="#fdfdfd"/><text x="1546.9" y="946.4" text-anchor="middle" font-size="10.8" fill="#151515" stroke="#151515" stroke-width="0.3" textLength="57.5" lengthAdjust="spacingAndGlyphs">actionType</text><rect x="1514.8" y="949.1" width="32.1" height="11" fill="#fdfdfd"/><text x="1530.8" y="957.8" text-anchor="middle" font-size="10.8" fill="#151515" stroke="#151515" stroke-width="0.3" textLength="29.1" lengthAdjust="spacingAndGlyphs">result</text><rect x="1459.7" y="964.6" width="98.7" height="11" fill="#fdfdfd"/><text x="1509.1" y="973.3" text-anchor="middle" font-size="10.8" fill="#151515" stroke="#151515" stroke-width="0.3" textLength="95.7" lengthAdjust="spacingAndGlyphs">shotDistanceUnits</text><rect x="1408.4" y="998.9" width="106.7" height="11" fill="#fdfdfd"/><text x="1461.7" y="1007.6" text-anchor="middle" font-size="10.8" fill="#151515" stroke="#151515" stroke-width="0.3" textLength="103.7" lengthAdjust="spacingAndGlyphs">scoreAttemptResult</text><rect x="550.5" y="1107.5" width="46.6" height="11" fill="#fdfdfd"/><text x="573.8" y="1116.2" text-anchor="middle" font-size="10.8" fill="#151515" stroke="#151515" stroke-width="0.3" textLength="43.6" lengthAdjust="spacingAndGlyphs">member</text><rect x="528.8" y="1164.6" width="59.1" height="11" fill="#fdfdfd"/><text x="558.4" y="1173.3" text-anchor="middle" font-size="10.8" fill="#151515" stroke="#151515" stroke-width="0.3" textLength="56.1" lengthAdjust="spacingAndGlyphs">memberOf</text><rect x="640.8" y="1093.4" width="80.9" height="11" fill="#fdfdfd"/><text x="681.3" y="1102.1" text-anchor="middle" font-size="10.8" fill="#151515" stroke="#151515" stroke-width="0.3" textLength="77.9" lengthAdjust="spacingAndGlyphs">membershipOf</text><rect x="679.1" y="1081.5" width="68.4" height="11" fill="#fdfdfd"/><text x="713.3" y="1090.2" text-anchor="middle" font-size="10.8" fill="#151515" stroke="#151515" stroke-width="0.3" textLength="65.4" lengthAdjust="spacingAndGlyphs">membership</text><rect x="644.8" y="1253.3" width="64.4" height="11" fill="#fdfdfd"/><text x="677.0" y="1262.0" text-anchor="middle" font-size="10.8" fill="#151515" stroke="#151515" stroke-width="0.3" textLength="61.4" lengthAdjust="spacingAndGlyphs">subClassOf</text><rect x="734.1" y="1259.5" width="84.9" height="11" fill="#fdfdfd"/><text x="776.5" y="1268.2" text-anchor="middle" font-size="10.8" fill="#151515" stroke="#151515" stroke-width="0.3" textLength="81.9" lengthAdjust="spacingAndGlyphs">uniformNumber</text><rect x="505.3" y="942.3" width="64.4" height="11" fill="#fdfdfd"/><text x="537.5" y="951.0" text-anchor="middle" font-size="10.8" fill="#151515" stroke="#151515" stroke-width="0.3" textLength="61.4" lengthAdjust="spacingAndGlyphs">subClassOf</text><rect x="636.8" y="893.8" width="64.4" height="11" fill="#fdfdfd"/><text x="669.0" y="902.5" text-anchor="middle" font-size="10.8" fill="#151515" stroke="#151515" stroke-width="0.3" textLength="61.4" lengthAdjust="spacingAndGlyphs">subClassOf</text><rect x="269.3" y="1029.3" width="64.4" height="11" fill="#fdfdfd"/><text x="301.5" y="1038.0" text-anchor="middle" font-size="10.8" fill="#151515" stroke="#151515" stroke-width="0.3" textLength="61.4" lengthAdjust="spacingAndGlyphs">subClassOf</text><rect x="262.3" y="1086.8" width="64.4" height="11" fill="#fdfdfd"/><text x="294.5" y="1095.5" text-anchor="middle" font-size="10.8" fill="#151515" stroke="#151515" stroke-width="0.3" textLength="61.4" lengthAdjust="spacingAndGlyphs">subClassOf</text><rect x="294.8" y="1149.8" width="64.4" height="11" fill="#fdfdfd"/><text x="327.0" y="1158.5" text-anchor="middle" font-size="10.8" fill="#151515" stroke="#151515" stroke-width="0.3" textLength="61.4" lengthAdjust="spacingAndGlyphs">subClassOf</text><rect x="355.3" y="1000.0" width="56.5" height="11" fill="#fdfdfd"/><text x="383.5" y="1008.8" text-anchor="middle" font-size="10.8" fill="#151515" stroke="#151515" stroke-width="0.3" textLength="53.5" lengthAdjust="spacingAndGlyphs">nationality</text><rect x="379.0" y="1183.0" width="63.1" height="11" fill="#fdfdfd"/><text x="410.5" y="1191.8" text-anchor="middle" font-size="10.8" fill="#151515" stroke="#151515" stroke-width="0.3" textLength="60.1" lengthAdjust="spacingAndGlyphs">dateOfBirth</text><rect x="541.8" y="759.0" width="35.4" height="11" fill="#fdfdfd"/><text x="559.5" y="767.8" text-anchor="middle" font-size="10.8" fill="#151515" stroke="#151515" stroke-width="0.3" textLength="32.4" lengthAdjust="spacingAndGlyphs">image</text><rect x="549.4" y="804.0" width="28.1" height="11" fill="#fdfdfd"/><text x="563.5" y="812.8" text-anchor="middle" font-size="10.8" fill="#151515" stroke="#151515" stroke-width="0.3" textLength="25.1" lengthAdjust="spacingAndGlyphs">label</text><rect x="626.1" y="698.3" width="57.8" height="11" fill="#fdfdfd"/><text x="655.0" y="707.0" text-anchor="middle" font-size="10.8" fill="#151515" stroke="#151515" stroke-width="0.3" textLength="54.8" lengthAdjust="spacingAndGlyphs">participant</text><rect x="511.9" y="1353.0" width="28.1" height="11" fill="#fdfdfd"/><text x="526.0" y="1361.8" text-anchor="middle" font-size="10.8" fill="#151515" stroke="#151515" stroke-width="0.3" textLength="25.1" lengthAdjust="spacingAndGlyphs">label</text><rect x="533.9" y="1385.5" width="51.2" height="11" fill="#fdfdfd"/><text x="559.5" y="1394.2" text-anchor="middle" font-size="10.8" fill="#151515" stroke="#151515" stroke-width="0.3" textLength="48.2" lengthAdjust="spacingAndGlyphs">startDate</text><rect x="620.5" y="1401.0" width="47.9" height="11" fill="#fdfdfd"/><text x="644.5" y="1409.8" text-anchor="middle" font-size="10.8" fill="#151515" stroke="#151515" stroke-width="0.3" textLength="44.9" lengthAdjust="spacingAndGlyphs">endDate</text><rect x="1543.3" y="1171.0" width="68.4" height="11" fill="#fdfdfd"/><text x="1577.5" y="1179.8" text-anchor="middle" font-size="10.8" fill="#151515" stroke="#151515" stroke-width="0.3" textLength="65.4" lengthAdjust="spacingAndGlyphs">timeAddition</text><rect x="1533.6" y="1194.0" width="67.7" height="11" fill="#fdfdfd"/><text x="1567.5" y="1202.8" text-anchor="middle" font-size="10.8" fill="#151515" stroke="#151515" stroke-width="0.3" textLength="64.7" lengthAdjust="spacingAndGlyphs">saveMethod</text><rect x="1524.3" y="1221.0" width="66.4" height="11" fill="#fdfdfd"/><text x="1557.5" y="1229.8" text-anchor="middle" font-size="10.8" fill="#151515" stroke="#151515" stroke-width="0.3" textLength="63.4" lengthAdjust="spacingAndGlyphs">lastModified</text><rect x="1513.9" y="1242.5" width="82.2" height="11" fill="#fdfdfd"/><text x="1555.0" y="1251.2" text-anchor="middle" font-size="10.8" fill="#151515" stroke="#151515" stroke-width="0.3" textLength="79.2" lengthAdjust="spacingAndGlyphs">timeRemaining</text><rect x="1530.7" y="1267.5" width="71.7" height="11" fill="#fdfdfd"/><text x="1566.5" y="1276.2" text-anchor="middle" font-size="10.8" fill="#151515" stroke="#151515" stroke-width="0.3" textLength="68.7" lengthAdjust="spacingAndGlyphs">shotDistance</text><rect x="1538.2" y="1292.0" width="79.6" height="11" fill="#fdfdfd"/><text x="1578.0" y="1300.8" text-anchor="middle" font-size="10.8" fill="#151515" stroke="#151515" stroke-width="0.3" textLength="76.6" lengthAdjust="spacingAndGlyphs">infractionLevel</text><rect x="1582.1" y="1309.0" width="67.7" height="11" fill="#fdfdfd"/><text x="1616.0" y="1317.8" text-anchor="middle" font-size="10.8" fill="#151515" stroke="#151515" stroke-width="0.3" textLength="64.7" lengthAdjust="spacingAndGlyphs">endLocation</text><rect x="1615.6" y="1328.0" width="85.8" height="11" fill="#fdfdfd"/><text x="1658.5" y="1336.8" text-anchor="middle" font-size="10.8" fill="#151515" stroke="#151515" stroke-width="0.3" textLength="82.8" lengthAdjust="spacingAndGlyphs">actionDateTime</text><rect x="1697.3" y="1328.0" width="70.4" height="11" fill="#fdfdfd"/><text x="1732.5" y="1336.8" text-anchor="middle" font-size="10.8" fill="#151515" stroke="#151515" stroke-width="0.3" textLength="67.4" lengthAdjust="spacingAndGlyphs">goalLocation</text><rect x="1738.6" y="1318.5" width="53.9" height="11" fill="#fdfdfd"/><text x="1765.5" y="1327.2" text-anchor="middle" font-size="10.8" fill="#151515" stroke="#151515" stroke-width="0.3" textLength="50.9" lengthAdjust="spacingAndGlyphs">passType</text><rect x="1781.4" y="1292.5" width="47.2" height="11" fill="#fdfdfd"/><text x="1805.0" y="1301.2" text-anchor="middle" font-size="10.8" fill="#151515" stroke="#151515" stroke-width="0.3" textLength="44.2" lengthAdjust="spacingAndGlyphs">distance</text><rect x="1821.0" y="1280.5" width="71.0" height="11" fill="#fdfdfd"/><text x="1856.5" y="1289.2" text-anchor="middle" font-size="10.8" fill="#151515" stroke="#151515" stroke-width="0.3" textLength="68.0" lengthAdjust="spacingAndGlyphs">startLocation</text><rect x="1807.2" y="1311.0" width="87.5" height="11" fill="#fdfdfd"/><text x="1851.0" y="1319.8" text-anchor="middle" font-size="10.8" fill="#151515" stroke="#151515" stroke-width="0.3" textLength="84.5" lengthAdjust="spacingAndGlyphs">minutesElapsed</text><rect x="1798.6" y="1332.5" width="53.9" height="11" fill="#fdfdfd"/><text x="1825.5" y="1341.2" text-anchor="middle" font-size="10.8" fill="#151515" stroke="#151515" stroke-width="0.3" textLength="50.9" lengthAdjust="spacingAndGlyphs">saveType</text><rect x="1564.0" y="1348.0" width="104.0" height="11" fill="#fdfdfd"/><text x="1616.0" y="1356.8" text-anchor="middle" font-size="10.8" fill="#151515" stroke="#151515" stroke-width="0.3" textLength="101.0" lengthAdjust="spacingAndGlyphs">substitutionReason</text><rect x="1670.7" y="1346.5" width="50.6" height="11" fill="#fdfdfd"/><text x="1696.0" y="1355.2" text-anchor="middle" font-size="10.8" fill="#151515" stroke="#151515" stroke-width="0.3" textLength="47.6" lengthAdjust="spacingAndGlyphs">bodyPart</text><rect x="1763.3" y="1350.5" width="68.4" height="11" fill="#fdfdfd"/><text x="1797.5" y="1359.2" text-anchor="middle" font-size="10.8" fill="#151515" stroke="#151515" stroke-width="0.3" textLength="65.4" lengthAdjust="spacingAndGlyphs">timeElapsed</text><rect x="1713.6" y="1366.5" width="96.8" height="11" fill="#fdfdfd"/><text x="1762.0" y="1375.2" text-anchor="middle" font-size="10.8" fill="#151515" stroke="#151515" stroke-width="0.3" textLength="93.8" lengthAdjust="spacingAndGlyphs">sequenceNumber</text><rect x="1614.7" y="1370.0" width="87.5" height="11" fill="#fdfdfd"/><text x="1658.5" y="1378.8" text-anchor="middle" font-size="10.8" fill="#151515" stroke="#151515" stroke-width="0.3" textLength="84.5" lengthAdjust="spacingAndGlyphs">passDescription</text><rect x="1654.8" y="1383.0" width="134.4" height="11" fill="#fdfdfd"/><text x="1722.0" y="1391.8" text-anchor="middle" font-size="10.8" fill="#151515" stroke="#151515" stroke-width="0.3" textLength="131.4" lengthAdjust="spacingAndGlyphs">personReplacingPosition</text><rect x="1856.5" y="1259.5" width="32.1" height="11" fill="#fdfdfd"/><text x="1872.5" y="1268.2" text-anchor="middle" font-size="10.8" fill="#151515" stroke="#151515" stroke-width="0.3" textLength="29.1" lengthAdjust="spacingAndGlyphs">angle</text><rect x="1833.7" y="1240.0" width="65.5" height="11" fill="#fdfdfd"/><text x="1866.5" y="1248.8" text-anchor="middle" font-size="10.8" fill="#151515" stroke="#151515" stroke-width="0.3" textLength="62.5" lengthAdjust="spacingAndGlyphs">periodValue</text><rect x="1845.1" y="1220.5" width="69.7" height="11" fill="#fdfdfd"/><text x="1880.0" y="1229.2" text-anchor="middle" font-size="10.8" fill="#151515" stroke="#151515" stroke-width="0.3" textLength="66.7" lengthAdjust="spacingAndGlyphs">fieldLocation</text><rect x="1855.6" y="1199.0" width="28.8" height="11" fill="#fdfdfd"/><text x="1870.0" y="1207.8" text-anchor="middle" font-size="10.8" fill="#151515" stroke="#151515" stroke-width="0.3" textLength="25.8" lengthAdjust="spacingAndGlyphs">zone</text><rect x="1790.4" y="1178.0" width="119.2" height="11" fill="#fdfdfd"/><text x="1850.0" y="1186.8" text-anchor="middle" font-size="10.8" fill="#151515" stroke="#151515" stroke-width="0.3" textLength="116.2" lengthAdjust="spacingAndGlyphs">scoreAttemptSituation</text><rect x="1801.1" y="1157.5" width="67.7" height="11" fill="#fdfdfd"/><text x="1835.0" y="1166.2" text-anchor="middle" font-size="10.8" fill="#151515" stroke="#151515" stroke-width="0.3" textLength="64.7" lengthAdjust="spacingAndGlyphs">passMethod</text><rect x="1793.6" y="1135.0" width="51.9" height="11" fill="#fdfdfd"/><text x="1819.5" y="1143.8" text-anchor="middle" font-size="10.8" fill="#151515" stroke="#151515" stroke-width="0.3" textLength="48.9" lengthAdjust="spacingAndGlyphs">comment</text><rect x="795.9" y="798.8" width="27.4" height="11" fill="#fdfdfd"/><text x="809.6" y="807.5" text-anchor="middle" font-size="10.8" fill="#151515" stroke="#151515" stroke-width="0.3" textLength="24.4" lengthAdjust="spacingAndGlyphs">child</text><rect x="820.1" y="869.4" width="36.7" height="11" fill="#fdfdfd"/><text x="838.4" y="878.1" text-anchor="middle" font-size="10.8" fill="#151515" stroke="#151515" stroke-width="0.3" textLength="33.7" lengthAdjust="spacingAndGlyphs">parent</text><rect x="947.4" y="1202.5" width="47.9" height="11" fill="#fdfdfd"/><text x="971.4" y="1211.2" text-anchor="middle" font-size="10.8" fill="#151515" stroke="#151515" stroke-width="0.3" textLength="44.9" lengthAdjust="spacingAndGlyphs">childSite</text><rect x="1064.8" y="1240.2" width="57.2" height="11" fill="#fdfdfd"/><text x="1093.4" y="1248.9" text-anchor="middle" font-size="10.8" fill="#151515" stroke="#151515" stroke-width="0.3" textLength="54.2" lengthAdjust="spacingAndGlyphs">parentSite</text><rect x="1511.4" y="595.1" width="123.2" height="11" fill="#fdfdfd"/><text x="1573.0" y="603.8" text-anchor="middle" font-size="10.8" fill="#151515" stroke="#151515" stroke-width="0.3" textLength="120.2" lengthAdjust="spacingAndGlyphs">competitionPhaseType</text><rect x="1537.4" y="934.0" width="30.1" height="11" fill="#fdfdfd"/><text x="1552.4" y="942.7" text-anchor="middle" font-size="10.8" fill="#151515" stroke="#151515" stroke-width="0.3" textLength="27.1" lengthAdjust="spacingAndGlyphs">class</text><rect x="1489.0" y="961.2" width="51.2" height="11" fill="#fdfdfd"/><text x="1514.6" y="969.9" text-anchor="middle" font-size="10.8" fill="#151515" stroke="#151515" stroke-width="0.3" textLength="48.2" lengthAdjust="spacingAndGlyphs">shotType</text><rect x="1448.7" y="972.7" width="98.7" height="11" fill="#fdfdfd"/><text x="1498.1" y="981.4" text-anchor="middle" font-size="10.8" fill="#151515" stroke="#151515" stroke-width="0.3" textLength="95.7" lengthAdjust="spacingAndGlyphs">scoreAttemptType</text><rect x="652.8" y="698.5" width="80.9" height="11" fill="#fdfdfd"/><text x="693.3" y="707.2" text-anchor="middle" font-size="10.8" fill="#151515" stroke="#151515" stroke-width="0.3" textLength="77.9" lengthAdjust="spacingAndGlyphs">participationBy</text><rect x="1527.1" y="1327.0" width="96.8" height="11" fill="#fdfdfd"/><text x="1575.5" y="1335.8" text-anchor="middle" font-size="10.8" fill="#151515" stroke="#151515" stroke-width="0.3" textLength="93.8" lengthAdjust="spacingAndGlyphs">scoreAttemptSide</text><rect x="1692.7" y="575.8" width="112.6" height="11" fill="#fdfdfd"/><text x="1749.0" y="584.5" text-anchor="middle" font-size="10.8" fill="#151515" stroke="#151515" stroke-width="0.3" textLength="109.6" lengthAdjust="spacingAndGlyphs">phaseContainsEvent</text><rect x="1303.3" y="558.8" width="89.5" height="11" fill="#fdfdfd"/><text x="1348.1" y="567.5" text-anchor="middle" font-size="10.8" fill="#151515" stroke="#151515" stroke-width="0.3" textLength="86.5" lengthAdjust="spacingAndGlyphs">competitionType</text></g><g><rect x="1481.0" y="176.0" width="108" height="48" rx="18.0" ry="23.0" fill="#f5c1c2" stroke="#2e2e2e" stroke-width="1.15"/><text x="1535.0" y="197.7" text-anchor="middle" font-size="10.5" fill="#141414" stroke="#141414" stroke-width="0.30" textLength="54.3" lengthAdjust="spacingAndGlyphs">Governing</text><text x="1535.0" y="209.7" text-anchor="middle" font-size="10.5" fill="#141414" stroke="#141414" stroke-width="0.30" textLength="26.8" lengthAdjust="spacingAndGlyphs">Body</text><rect x="1072.0" y="224.0" width="108" height="48" rx="18.0" ry="23.0" fill="#f7ddc3" stroke="#2e2e2e" stroke-width="1.15"/><text x="1126.0" y="245.7" text-anchor="middle" font-size="10.5" fill="#141414" stroke="#141414" stroke-width="0.30" textLength="49.7" lengthAdjust="spacingAndGlyphs">Individual</text><text x="1126.0" y="257.7" text-anchor="middle" font-size="10.5" fill="#141414" stroke="#141414" stroke-width="0.30" textLength="64.7" lengthAdjust="spacingAndGlyphs">Participation</text><rect x="1053.0" y="364.0" width="108" height="48" rx="18.0" ry="23.0" fill="#f7ddc3" stroke="#2e2e2e" stroke-width="1.15"/><text x="1107.0" y="385.7" text-anchor="middle" font-size="10.5" fill="#141414" stroke="#141414" stroke-width="0.30" textLength="28.8" lengthAdjust="spacingAndGlyphs">Team</text><text x="1107.0" y="397.7" text-anchor="middle" font-size="10.5" fill="#141414" stroke="#141414" stroke-width="0.30" textLength="64.7" lengthAdjust="spacingAndGlyphs">Participation</text><rect x="421.0" y="419.0" width="108" height="48" rx="18.0" ry="23.0" fill="#f7ddc3" stroke="#2e2e2e" stroke-width="1.15"/><text x="475.0" y="440.7" text-anchor="middle" font-size="10.5" fill="#141414" stroke="#141414" stroke-width="0.30" textLength="35.7" lengthAdjust="spacingAndGlyphs">Official</text><text x="475.0" y="452.7" text-anchor="middle" font-size="10.5" fill="#141414" stroke="#141414" stroke-width="0.30" textLength="64.7" lengthAdjust="spacingAndGlyphs">Participation</text><rect x="821.0" y="429.0" width="108" height="48" rx="18.0" ry="23.0" fill="#f7ddc3" stroke="#2e2e2e" stroke-width="1.15"/><text x="875.0" y="450.7" text-anchor="middle" font-size="10.5" fill="#141414" stroke="#141414" stroke-width="0.30" textLength="57.5" lengthAdjust="spacingAndGlyphs">Competitor</text><text x="875.0" y="462.7" text-anchor="middle" font-size="10.5" fill="#141414" stroke="#141414" stroke-width="0.30" textLength="64.7" lengthAdjust="spacingAndGlyphs">Participation</text><rect x="1341.0" y="417.0" width="108" height="48" rx="18.0" ry="23.0" fill="#f5c1c2" stroke="#2e2e2e" stroke-width="1.15"/><text x="1395.0" y="444.8" text-anchor="middle" font-size="10.5" fill="#141414" stroke="#141414" stroke-width="0.30" textLength="62.8" lengthAdjust="spacingAndGlyphs">Competition</text><rect x="1702.0" y="410.0" width="108" height="48" rx="18.0" ry="23.0" fill="#f5c1c2" stroke="#2e2e2e" stroke-width="1.15"/><text x="1756.0" y="431.7" text-anchor="middle" font-size="10.5" fill="#141414" stroke="#141414" stroke-width="0.30" textLength="62.8" lengthAdjust="spacingAndGlyphs">Competition</text><text x="1756.0" y="443.7" text-anchor="middle" font-size="10.5" fill="#141414" stroke="#141414" stroke-width="0.30" textLength="33.3" lengthAdjust="spacingAndGlyphs">Phase</text><rect x="326.0" y="488.0" width="108" height="48" rx="18.0" ry="23.0" fill="#f7ddc3" stroke="#2e2e2e" stroke-width="1.15"/><text x="380.0" y="509.7" text-anchor="middle" font-size="10.5" fill="#141414" stroke="#141414" stroke-width="0.30" textLength="51.0" lengthAdjust="spacingAndGlyphs">Associate</text><text x="380.0" y="521.7" text-anchor="middle" font-size="10.5" fill="#141414" stroke="#141414" stroke-width="0.30" textLength="64.7" lengthAdjust="spacingAndGlyphs">Participation</text><rect x="624.0" y="586.0" width="108" height="48" rx="18.0" ry="23.0" fill="#f7ddc3" stroke="#2e2e2e" stroke-width="1.15"/><text x="678.0" y="613.8" text-anchor="middle" font-size="10.5" fill="#141414" stroke="#141414" stroke-width="0.30" textLength="64.7" lengthAdjust="spacingAndGlyphs">Participation</text><rect x="349.0" y="594.0" width="108" height="48" rx="18.0" ry="23.0" fill="#f7ddc3" stroke="#2e2e2e" stroke-width="1.15"/><text x="403.0" y="615.7" text-anchor="middle" font-size="10.5" fill="#141414" stroke="#141414" stroke-width="0.30" textLength="64.7" lengthAdjust="spacingAndGlyphs">Participation</text><text x="403.0" y="627.7" text-anchor="middle" font-size="10.5" fill="#141414" stroke="#141414" stroke-width="0.30" textLength="22.9" lengthAdjust="spacingAndGlyphs">Split</text><rect x="1291.0" y="674.0" width="108" height="48" rx="18.0" ry="23.0" fill="#bfe3f6" stroke="#2e2e2e" stroke-width="1.15"/><text x="1345.0" y="701.8" text-anchor="middle" font-size="10.5" fill="#141414" stroke="#141414" stroke-width="0.30" textLength="43.8" lengthAdjust="spacingAndGlyphs">Concept</text><rect x="1640.0" y="695.0" width="108" height="48" rx="18.0" ry="23.0" fill="#f5c1c2" stroke="#2e2e2e" stroke-width="1.15"/><text x="1694.0" y="722.8" text-anchor="middle" font-size="10.5" fill="#141414" stroke="#141414" stroke-width="0.30" textLength="30.1" lengthAdjust="spacingAndGlyphs">Event</text><rect x="925.0" y="748.0" width="108" height="48" rx="18.0" ry="23.0" fill="#f7ddc3" stroke="#2e2e2e" stroke-width="1.15"/><text x="979.0" y="769.7" text-anchor="middle" font-size="10.5" fill="#141414" stroke="#141414" stroke-width="0.30" textLength="71.3" lengthAdjust="spacingAndGlyphs">Participatable</text><text x="979.0" y="781.7" text-anchor="middle" font-size="10.5" fill="#141414" stroke="#141414" stroke-width="0.30" textLength="29.4" lengthAdjust="spacingAndGlyphs">Thing</text><rect x="622.0" y="775.0" width="108" height="48" rx="18.0" ry="23.0" fill="#def5c4" stroke="#2e2e2e" stroke-width="1.15"/><text x="676.0" y="802.8" text-anchor="middle" font-size="10.5" fill="#141414" stroke="#141414" stroke-width="0.30" textLength="30.7" lengthAdjust="spacingAndGlyphs">Agent</text><rect x="150.0" y="949.0" width="108" height="48" rx="18.0" ry="23.0" fill="#def5c4" stroke="#2e2e2e" stroke-width="1.15"/><text x="204.0" y="976.8" text-anchor="middle" font-size="10.5" fill="#141414" stroke="#141414" stroke-width="0.30" textLength="36.6" lengthAdjust="spacingAndGlyphs">Athlete</text><rect x="608.0" y="976.0" width="108" height="48" rx="18.0" ry="23.0" fill="#def5c4" stroke="#2e2e2e" stroke-width="1.15"/><text x="662.0" y="1003.8" text-anchor="middle" font-size="10.5" fill="#141414" stroke="#141414" stroke-width="0.30" textLength="28.8" lengthAdjust="spacingAndGlyphs">Team</text><rect x="136.0" y="1064.0" width="108" height="48" rx="18.0" ry="23.0" fill="#def5c4" stroke="#2e2e2e" stroke-width="1.15"/><text x="190.0" y="1091.8" text-anchor="middle" font-size="10.5" fill="#141414" stroke="#141414" stroke-width="0.30" textLength="35.7" lengthAdjust="spacingAndGlyphs">Official</text><rect x="345.0" y="1073.0" width="108" height="48" rx="18.0" ry="23.0" fill="#def5c4" stroke="#2e2e2e" stroke-width="1.15"/><text x="399.0" y="1100.8" text-anchor="middle" font-size="10.5" fill="#141414" stroke="#141414" stroke-width="0.30" textLength="49.7" lengthAdjust="spacingAndGlyphs">Individual</text><rect x="1123.0" y="1077.0" width="108" height="48" rx="18.0" ry="23.0" fill="#f6f1c4" stroke="#2e2e2e" stroke-width="1.15"/><text x="1177.0" y="1104.8" text-anchor="middle" font-size="10.5" fill="#141414" stroke="#141414" stroke-width="0.30" textLength="20.3" lengthAdjust="spacingAndGlyphs">Site</text><rect x="679.0" y="1164.0" width="108" height="48" rx="18.0" ry="23.0" fill="#def5c4" stroke="#2e2e2e" stroke-width="1.15"/><text x="733.0" y="1185.7" text-anchor="middle" font-size="10.5" fill="#141414" stroke="#141414" stroke-width="0.30" textLength="49.7" lengthAdjust="spacingAndGlyphs">Individual</text><text x="733.0" y="1197.7" text-anchor="middle" font-size="10.5" fill="#141414" stroke="#141414" stroke-width="0.30" textLength="64.7" lengthAdjust="spacingAndGlyphs">Membership</text><rect x="201.0" y="1190.0" width="108" height="48" rx="18.0" ry="23.0" fill="#def5c4" stroke="#2e2e2e" stroke-width="1.15"/><text x="255.0" y="1217.8" text-anchor="middle" font-size="10.5" fill="#141414" stroke="#141414" stroke-width="0.30" textLength="51.0" lengthAdjust="spacingAndGlyphs">Associate</text><rect x="1663.0" y="1189.0" width="108" height="48" rx="18.0" ry="23.0" fill="#dac1f6" stroke="#2e2e2e" stroke-width="1.15"/><text x="1717.0" y="1216.8" text-anchor="middle" font-size="10.5" fill="#141414" stroke="#141414" stroke-width="0.30" textLength="32.7" lengthAdjust="spacingAndGlyphs">Action</text><rect x="567.0" y="1306.0" width="108" height="48" rx="18.0" ry="23.0" fill="#def5c4" stroke="#2e2e2e" stroke-width="1.15"/><text x="621.0" y="1333.8" text-anchor="middle" font-size="10.5" fill="#141414" stroke="#141414" stroke-width="0.30" textLength="64.7" lengthAdjust="spacingAndGlyphs">Membership</text><rect x="1294.5" y="134.5" width="108" height="31" rx="3.5" fill="#ffffff" stroke="#333333" stroke-width="1.1"/><text x="1348.0" y="148.2" text-anchor="middle" font-size="10.4" fill="#141414" stroke="#141414" stroke-width="0.30" textLength="42.2" lengthAdjust="spacingAndGlyphs">keyword</text><text x="1348.0" y="158.8" text-anchor="middle" font-size="9.2" fill="#3e3e3e" stroke="#3e3e3e" stroke-width="0.12" letter-spacing="0.45">xsd:string</text><rect x="722.5" y="174.5" width="108" height="31" rx="3.5" fill="#ffffff" stroke="#333333" stroke-width="1.1"/><text x="776.0" y="188.2" text-anchor="middle" font-size="10.4" fill="#141414" stroke="#141414" stroke-width="0.30" textLength="42.2" lengthAdjust="spacingAndGlyphs">keyword</text><text x="776.0" y="198.8" text-anchor="middle" font-size="9.2" fill="#3e3e3e" stroke="#3e3e3e" stroke-width="0.12" letter-spacing="0.45">xsd:string</text><rect x="861.5" y="182.5" width="108" height="31" rx="3.5" fill="#ffffff" stroke="#333333" stroke-width="1.1"/><text x="915.0" y="196.2" text-anchor="middle" font-size="10.4" fill="#141414" stroke="#141414" stroke-width="0.30" textLength="42.2" lengthAdjust="spacingAndGlyphs">keyword</text><text x="915.0" y="206.8" text-anchor="middle" font-size="9.2" fill="#3e3e3e" stroke="#3e3e3e" stroke-width="0.12" letter-spacing="0.45">xsd:string</text><rect x="1725.5" y="183.5" width="108" height="31" rx="3.5" fill="#ffffff" stroke="#333333" stroke-width="1.1"/><text x="1779.0" y="197.2" text-anchor="middle" font-size="10.4" fill="#141414" stroke="#141414" stroke-width="0.30" textLength="18.3" lengthAdjust="spacingAndGlyphs">text</text><text x="1779.0" y="207.8" text-anchor="middle" font-size="9.2" fill="#3e3e3e" stroke="#3e3e3e" stroke-width="0.12" letter-spacing="0.45">xsd:string</text><rect x="614.5" y="265.5" width="108" height="31" rx="3.5" fill="#ffffff" stroke="#333333" stroke-width="1.1"/><text x="668.0" y="279.2" text-anchor="middle" font-size="10.4" fill="#141414" stroke="#141414" stroke-width="0.30" textLength="42.2" lengthAdjust="spacingAndGlyphs">keyword</text><text x="668.0" y="289.8" text-anchor="middle" font-size="9.2" fill="#3e3e3e" stroke="#3e3e3e" stroke-width="0.12" letter-spacing="0.45">xsd:string</text><rect x="566.5" y="429.5" width="108" height="31" rx="3.5" fill="#ffffff" stroke="#333333" stroke-width="1.1"/><text x="620.0" y="443.2" text-anchor="middle" font-size="10.4" fill="#141414" stroke="#141414" stroke-width="0.30" textLength="18.3" lengthAdjust="spacingAndGlyphs">text</text><text x="620.0" y="453.8" text-anchor="middle" font-size="9.2" fill="#3e3e3e" stroke="#3e3e3e" stroke-width="0.12" letter-spacing="0.45">xsd:string</text><rect x="96.5" y="546.5" width="108" height="31" rx="3.5" fill="#ffffff" stroke="#333333" stroke-width="1.1"/><text x="150.0" y="560.2" text-anchor="middle" font-size="10.4" fill="#141414" stroke="#141414" stroke-width="0.30" textLength="42.2" lengthAdjust="spacingAndGlyphs">keyword</text><text x="150.0" y="570.8" text-anchor="middle" font-size="9.2" fill="#3e3e3e" stroke="#3e3e3e" stroke-width="0.12" letter-spacing="0.45">xsd:string</text><rect x="100.5" y="648.5" width="108" height="31" rx="3.5" fill="#ffffff" stroke="#333333" stroke-width="1.1"/><text x="154.0" y="662.2" text-anchor="middle" font-size="10.4" fill="#141414" stroke="#141414" stroke-width="0.30" textLength="18.3" lengthAdjust="spacingAndGlyphs">text</text><text x="154.0" y="672.8" text-anchor="middle" font-size="9.2" fill="#3e3e3e" stroke="#3e3e3e" stroke-width="0.12" letter-spacing="0.45">xsd:string</text><rect x="1890.5" y="570.5" width="108" height="31" rx="3.5" fill="#ffffff" stroke="#333333" stroke-width="1.1"/><text x="1944.0" y="584.2" text-anchor="middle" font-size="10.4" fill="#141414" stroke="#141414" stroke-width="0.30" textLength="34.7" lengthAdjust="spacingAndGlyphs">integer</text><text x="1944.0" y="594.8" text-anchor="middle" font-size="9.2" fill="#3e3e3e" stroke="#3e3e3e" stroke-width="0.12" letter-spacing="0.45">xsd:integer</text><rect x="1901.5" y="671.5" width="108" height="31" rx="3.5" fill="#ffffff" stroke="#333333" stroke-width="1.1"/><text x="1955.0" y="685.2" text-anchor="middle" font-size="10.4" fill="#141414" stroke="#141414" stroke-width="0.30" textLength="46.8" lengthAdjust="spacingAndGlyphs">dateTime</text><text x="1955.0" y="695.8" text-anchor="middle" font-size="9.2" fill="#3e3e3e" stroke="#3e3e3e" stroke-width="0.12" letter-spacing="0.45">xsd:dateTime</text><rect x="1887.5" y="794.5" width="108" height="31" rx="3.5" fill="#ffffff" stroke="#333333" stroke-width="1.1"/><text x="1941.0" y="808.2" text-anchor="middle" font-size="10.4" fill="#141414" stroke="#141414" stroke-width="0.30" textLength="46.8" lengthAdjust="spacingAndGlyphs">dateTime</text><text x="1941.0" y="818.8" text-anchor="middle" font-size="9.2" fill="#3e3e3e" stroke="#3e3e3e" stroke-width="0.12" letter-spacing="0.45">xsd:dateTime</text><rect x="389.5" y="715.5" width="108" height="31" rx="3.5" fill="#ffffff" stroke="#333333" stroke-width="1.1"/><text x="443.0" y="729.2" text-anchor="middle" font-size="10.4" fill="#141414" stroke="#141414" stroke-width="0.30" textLength="45.4" lengthAdjust="spacingAndGlyphs">imageUrl</text><text x="443.0" y="739.8" text-anchor="middle" font-size="9.2" fill="#3e3e3e" stroke="#3e3e3e" stroke-width="0.12" letter-spacing="0.45">xsd:string</text><rect x="397.5" y="805.5" width="108" height="31" rx="3.5" fill="#ffffff" stroke="#333333" stroke-width="1.1"/><text x="451.0" y="819.2" text-anchor="middle" font-size="10.4" fill="#141414" stroke="#141414" stroke-width="0.30" textLength="18.3" lengthAdjust="spacingAndGlyphs">text</text><text x="451.0" y="829.8" text-anchor="middle" font-size="9.2" fill="#3e3e3e" stroke="#3e3e3e" stroke-width="0.12" letter-spacing="0.45">xsd:string</text><rect x="1250.5" y="864.5" width="108" height="31" rx="3.5" fill="#ffffff" stroke="#333333" stroke-width="1.1"/><text x="1304.0" y="878.2" text-anchor="middle" font-size="10.4" fill="#141414" stroke="#141414" stroke-width="0.30" textLength="18.3" lengthAdjust="spacingAndGlyphs">text</text><text x="1304.0" y="888.8" text-anchor="middle" font-size="9.2" fill="#3e3e3e" stroke="#3e3e3e" stroke-width="0.12" letter-spacing="0.45">xsd:string</text><rect x="846.5" y="903.5" width="108" height="31" rx="3.5" fill="#ffffff" stroke="#333333" stroke-width="1.1"/><text x="900.0" y="917.2" text-anchor="middle" font-size="10.4" fill="#141414" stroke="#141414" stroke-width="0.30" textLength="18.3" lengthAdjust="spacingAndGlyphs">text</text><text x="900.0" y="927.8" text-anchor="middle" font-size="9.2" fill="#3e3e3e" stroke="#3e3e3e" stroke-width="0.12" letter-spacing="0.45">xsd:string</text><rect x="314.5" y="899.5" width="108" height="31" rx="3.5" fill="#ffffff" stroke="#333333" stroke-width="1.1"/><text x="368.0" y="913.2" text-anchor="middle" font-size="10.4" fill="#141414" stroke="#141414" stroke-width="0.30" textLength="42.2" lengthAdjust="spacingAndGlyphs">keyword</text><text x="368.0" y="923.8" text-anchor="middle" font-size="9.2" fill="#3e3e3e" stroke="#3e3e3e" stroke-width="0.12" letter-spacing="0.45">xsd:string</text><rect x="368.5" y="1265.5" width="108" height="31" rx="3.5" fill="#ffffff" stroke="#333333" stroke-width="1.1"/><text x="422.0" y="1279.2" text-anchor="middle" font-size="10.4" fill="#141414" stroke="#141414" stroke-width="0.30" textLength="22.1" lengthAdjust="spacingAndGlyphs">date</text><text x="422.0" y="1289.8" text-anchor="middle" font-size="9.2" fill="#3e3e3e" stroke="#3e3e3e" stroke-width="0.12" letter-spacing="0.45">xsd:date</text><rect x="1166.5" y="1251.5" width="108" height="31" rx="3.5" fill="#ffffff" stroke="#333333" stroke-width="1.1"/><text x="1220.0" y="1265.2" text-anchor="middle" font-size="10.4" fill="#141414" stroke="#141414" stroke-width="0.30" textLength="18.3" lengthAdjust="spacingAndGlyphs">text</text><text x="1220.0" y="1275.8" text-anchor="middle" font-size="9.2" fill="#3e3e3e" stroke="#3e3e3e" stroke-width="0.12" letter-spacing="0.45">xsd:string</text><rect x="766.5" y="1327.5" width="108" height="31" rx="3.5" fill="#ffffff" stroke="#333333" stroke-width="1.1"/><text x="820.0" y="1341.2" text-anchor="middle" font-size="10.4" fill="#141414" stroke="#141414" stroke-width="0.30" textLength="42.2" lengthAdjust="spacingAndGlyphs">keyword</text><text x="820.0" y="1351.8" text-anchor="middle" font-size="9.2" fill="#3e3e3e" stroke="#3e3e3e" stroke-width="0.12" letter-spacing="0.45">xsd:string</text><rect x="377.5" y="1372.5" width="108" height="31" rx="3.5" fill="#ffffff" stroke="#333333" stroke-width="1.1"/><text x="431.0" y="1386.2" text-anchor="middle" font-size="10.4" fill="#141414" stroke="#141414" stroke-width="0.30" textLength="18.3" lengthAdjust="spacingAndGlyphs">text</text><text x="431.0" y="1396.8" text-anchor="middle" font-size="9.2" fill="#3e3e3e" stroke="#3e3e3e" stroke-width="0.12" letter-spacing="0.45">xsd:string</text><rect x="444.5" y="1437.5" width="108" height="31" rx="3.5" fill="#ffffff" stroke="#333333" stroke-width="1.1"/><text x="498.0" y="1451.2" text-anchor="middle" font-size="10.4" fill="#141414" stroke="#141414" stroke-width="0.30" textLength="22.1" lengthAdjust="spacingAndGlyphs">date</text><text x="498.0" y="1461.8" text-anchor="middle" font-size="9.2" fill="#3e3e3e" stroke="#3e3e3e" stroke-width="0.12" letter-spacing="0.45">xsd:date</text><rect x="614.5" y="1468.5" width="108" height="31" rx="3.5" fill="#ffffff" stroke="#333333" stroke-width="1.1"/><text x="668.0" y="1482.2" text-anchor="middle" font-size="10.4" fill="#141414" stroke="#141414" stroke-width="0.30" textLength="22.1" lengthAdjust="spacingAndGlyphs">date</text><text x="668.0" y="1492.8" text-anchor="middle" font-size="9.2" fill="#3e3e3e" stroke="#3e3e3e" stroke-width="0.12" letter-spacing="0.45">xsd:date</text><rect x="1384.5" y="1125.5" width="108" height="31" rx="3.5" fill="#ffffff" stroke="#333333" stroke-width="1.1"/><text x="1438.0" y="1139.2" text-anchor="middle" font-size="10.4" fill="#141414" stroke="#141414" stroke-width="0.30" textLength="18.3" lengthAdjust="spacingAndGlyphs">text</text><text x="1438.0" y="1149.8" text-anchor="middle" font-size="9.2" fill="#3e3e3e" stroke="#3e3e3e" stroke-width="0.12" letter-spacing="0.45">xsd:string</text><rect x="1364.5" y="1171.5" width="108" height="31" rx="3.5" fill="#ffffff" stroke="#333333" stroke-width="1.1"/><text x="1418.0" y="1185.2" text-anchor="middle" font-size="10.4" fill="#141414" stroke="#141414" stroke-width="0.30" textLength="42.2" lengthAdjust="spacingAndGlyphs">keyword</text><text x="1418.0" y="1195.8" text-anchor="middle" font-size="9.2" fill="#3e3e3e" stroke="#3e3e3e" stroke-width="0.12" letter-spacing="0.45">xsd:string</text><rect x="1344.5" y="1225.5" width="108" height="31" rx="3.5" fill="#ffffff" stroke="#333333" stroke-width="1.1"/><text x="1398.0" y="1239.2" text-anchor="middle" font-size="10.4" fill="#141414" stroke="#141414" stroke-width="0.30" textLength="46.8" lengthAdjust="spacingAndGlyphs">dateTime</text><text x="1398.0" y="1249.8" text-anchor="middle" font-size="9.2" fill="#3e3e3e" stroke="#3e3e3e" stroke-width="0.12" letter-spacing="0.45">xsd:dateTime</text><rect x="1339.5" y="1268.5" width="108" height="31" rx="3.5" fill="#ffffff" stroke="#333333" stroke-width="1.1"/><text x="1393.0" y="1282.2" text-anchor="middle" font-size="10.4" fill="#141414" stroke="#141414" stroke-width="0.30" textLength="18.3" lengthAdjust="spacingAndGlyphs">text</text><text x="1393.0" y="1292.8" text-anchor="middle" font-size="9.2" fill="#3e3e3e" stroke="#3e3e3e" stroke-width="0.12" letter-spacing="0.45">xsd:string</text><rect x="1362.5" y="1318.5" width="108" height="31" rx="3.5" fill="#ffffff" stroke="#333333" stroke-width="1.1"/><text x="1416.0" y="1332.2" text-anchor="middle" font-size="10.4" fill="#141414" stroke="#141414" stroke-width="0.30" textLength="18.3" lengthAdjust="spacingAndGlyphs">text</text><text x="1416.0" y="1342.8" text-anchor="middle" font-size="9.2" fill="#3e3e3e" stroke="#3e3e3e" stroke-width="0.12" letter-spacing="0.45">xsd:string</text><rect x="1385.5" y="1367.5" width="108" height="31" rx="3.5" fill="#ffffff" stroke="#333333" stroke-width="1.1"/><text x="1439.0" y="1381.2" text-anchor="middle" font-size="10.4" fill="#141414" stroke="#141414" stroke-width="0.30" textLength="42.2" lengthAdjust="spacingAndGlyphs">keyword</text><text x="1439.0" y="1391.8" text-anchor="middle" font-size="9.2" fill="#3e3e3e" stroke="#3e3e3e" stroke-width="0.12" letter-spacing="0.45">xsd:string</text><rect x="1461.5" y="1401.5" width="108" height="31" rx="3.5" fill="#ffffff" stroke="#333333" stroke-width="1.1"/><text x="1515.0" y="1415.2" text-anchor="middle" font-size="10.4" fill="#141414" stroke="#141414" stroke-width="0.30" textLength="18.3" lengthAdjust="spacingAndGlyphs">text</text><text x="1515.0" y="1425.8" text-anchor="middle" font-size="9.2" fill="#3e3e3e" stroke="#3e3e3e" stroke-width="0.12" letter-spacing="0.45">xsd:string</text><rect x="1380.5" y="1437.5" width="108" height="31" rx="3.5" fill="#ffffff" stroke="#333333" stroke-width="1.1"/><text x="1434.0" y="1451.2" text-anchor="middle" font-size="10.4" fill="#141414" stroke="#141414" stroke-width="0.30" textLength="18.3" lengthAdjust="spacingAndGlyphs">text</text><text x="1434.0" y="1461.8" text-anchor="middle" font-size="9.2" fill="#3e3e3e" stroke="#3e3e3e" stroke-width="0.12" letter-spacing="0.45">xsd:string</text><rect x="1546.5" y="1439.5" width="108" height="31" rx="3.5" fill="#ffffff" stroke="#333333" stroke-width="1.1"/><text x="1600.0" y="1453.2" text-anchor="middle" font-size="10.4" fill="#141414" stroke="#141414" stroke-width="0.30" textLength="46.8" lengthAdjust="spacingAndGlyphs">dateTime</text><text x="1600.0" y="1463.8" text-anchor="middle" font-size="9.2" fill="#3e3e3e" stroke="#3e3e3e" stroke-width="0.12" letter-spacing="0.45">xsd:dateTime</text><rect x="1694.5" y="1439.5" width="108" height="31" rx="3.5" fill="#ffffff" stroke="#333333" stroke-width="1.1"/><text x="1748.0" y="1453.2" text-anchor="middle" font-size="10.4" fill="#141414" stroke="#141414" stroke-width="0.30" textLength="18.3" lengthAdjust="spacingAndGlyphs">text</text><text x="1748.0" y="1463.8" text-anchor="middle" font-size="9.2" fill="#3e3e3e" stroke="#3e3e3e" stroke-width="0.12" letter-spacing="0.45">xsd:string</text><rect x="1760.5" y="1420.5" width="108" height="31" rx="3.5" fill="#ffffff" stroke="#333333" stroke-width="1.1"/><text x="1814.0" y="1434.2" text-anchor="middle" font-size="10.4" fill="#141414" stroke="#141414" stroke-width="0.30" textLength="42.2" lengthAdjust="spacingAndGlyphs">keyword</text><text x="1814.0" y="1444.8" text-anchor="middle" font-size="9.2" fill="#3e3e3e" stroke="#3e3e3e" stroke-width="0.12" letter-spacing="0.45">xsd:string</text><rect x="1839.5" y="1368.5" width="108" height="31" rx="3.5" fill="#ffffff" stroke="#333333" stroke-width="1.1"/><text x="1893.0" y="1382.2" text-anchor="middle" font-size="10.4" fill="#141414" stroke="#141414" stroke-width="0.30" textLength="18.3" lengthAdjust="spacingAndGlyphs">text</text><text x="1893.0" y="1392.8" text-anchor="middle" font-size="9.2" fill="#3e3e3e" stroke="#3e3e3e" stroke-width="0.12" letter-spacing="0.45">xsd:string</text><rect x="1942.5" y="1344.5" width="108" height="31" rx="3.5" fill="#ffffff" stroke="#333333" stroke-width="1.1"/><text x="1996.0" y="1358.2" text-anchor="middle" font-size="10.4" fill="#141414" stroke="#141414" stroke-width="0.30" textLength="18.3" lengthAdjust="spacingAndGlyphs">text</text><text x="1996.0" y="1368.8" text-anchor="middle" font-size="9.2" fill="#3e3e3e" stroke="#3e3e3e" stroke-width="0.12" letter-spacing="0.45">xsd:string</text><rect x="1931.5" y="1405.5" width="108" height="31" rx="3.5" fill="#ffffff" stroke="#333333" stroke-width="1.1"/><text x="1985.0" y="1419.2" text-anchor="middle" font-size="10.4" fill="#141414" stroke="#141414" stroke-width="0.30" textLength="34.7" lengthAdjust="spacingAndGlyphs">integer</text><text x="1985.0" y="1429.8" text-anchor="middle" font-size="9.2" fill="#3e3e3e" stroke="#3e3e3e" stroke-width="0.12" letter-spacing="0.45">xsd:integer</text><rect x="1880.5" y="1448.5" width="108" height="31" rx="3.5" fill="#ffffff" stroke="#333333" stroke-width="1.1"/><text x="1934.0" y="1462.2" text-anchor="middle" font-size="10.4" fill="#141414" stroke="#141414" stroke-width="0.30" textLength="42.2" lengthAdjust="spacingAndGlyphs">keyword</text><text x="1934.0" y="1472.8" text-anchor="middle" font-size="9.2" fill="#3e3e3e" stroke="#3e3e3e" stroke-width="0.12" letter-spacing="0.45">xsd:string</text><rect x="1461.5" y="1479.5" width="108" height="31" rx="3.5" fill="#ffffff" stroke="#333333" stroke-width="1.1"/><text x="1515.0" y="1493.2" text-anchor="middle" font-size="10.4" fill="#141414" stroke="#141414" stroke-width="0.30" textLength="18.3" lengthAdjust="spacingAndGlyphs">text</text><text x="1515.0" y="1503.8" text-anchor="middle" font-size="9.2" fill="#3e3e3e" stroke="#3e3e3e" stroke-width="0.12" letter-spacing="0.45">xsd:string</text><rect x="1621.5" y="1476.5" width="108" height="31" rx="3.5" fill="#ffffff" stroke="#333333" stroke-width="1.1"/><text x="1675.0" y="1490.2" text-anchor="middle" font-size="10.4" fill="#141414" stroke="#141414" stroke-width="0.30" textLength="18.3" lengthAdjust="spacingAndGlyphs">text</text><text x="1675.0" y="1500.8" text-anchor="middle" font-size="9.2" fill="#3e3e3e" stroke="#3e3e3e" stroke-width="0.12" letter-spacing="0.45">xsd:string</text><rect x="1824.5" y="1484.5" width="108" height="31" rx="3.5" fill="#ffffff" stroke="#333333" stroke-width="1.1"/><text x="1878.0" y="1498.2" text-anchor="middle" font-size="10.4" fill="#141414" stroke="#141414" stroke-width="0.30" textLength="18.3" lengthAdjust="spacingAndGlyphs">text</text><text x="1878.0" y="1508.8" text-anchor="middle" font-size="9.2" fill="#3e3e3e" stroke="#3e3e3e" stroke-width="0.12" letter-spacing="0.45">xsd:string</text><rect x="1753.5" y="1516.5" width="108" height="31" rx="3.5" fill="#ffffff" stroke="#333333" stroke-width="1.1"/><text x="1807.0" y="1530.2" text-anchor="middle" font-size="10.4" fill="#141414" stroke="#141414" stroke-width="0.30" textLength="42.2" lengthAdjust="spacingAndGlyphs">keyword</text><text x="1807.0" y="1540.8" text-anchor="middle" font-size="9.2" fill="#3e3e3e" stroke="#3e3e3e" stroke-width="0.12" letter-spacing="0.45">xsd:string</text><rect x="1546.5" y="1523.5" width="108" height="31" rx="3.5" fill="#ffffff" stroke="#333333" stroke-width="1.1"/><text x="1600.0" y="1537.2" text-anchor="middle" font-size="10.4" fill="#141414" stroke="#141414" stroke-width="0.30" textLength="18.3" lengthAdjust="spacingAndGlyphs">text</text><text x="1600.0" y="1547.8" text-anchor="middle" font-size="9.2" fill="#3e3e3e" stroke="#3e3e3e" stroke-width="0.12" letter-spacing="0.45">xsd:string</text><rect x="1673.5" y="1549.5" width="108" height="31" rx="3.5" fill="#ffffff" stroke="#333333" stroke-width="1.1"/><text x="1727.0" y="1563.2" text-anchor="middle" font-size="10.4" fill="#141414" stroke="#141414" stroke-width="0.30" textLength="42.2" lengthAdjust="spacingAndGlyphs">keyword</text><text x="1727.0" y="1573.8" text-anchor="middle" font-size="9.2" fill="#3e3e3e" stroke="#3e3e3e" stroke-width="0.12" letter-spacing="0.45">xsd:string</text><rect x="1974.5" y="1302.5" width="108" height="31" rx="3.5" fill="#ffffff" stroke="#333333" stroke-width="1.1"/><text x="2028.0" y="1316.2" text-anchor="middle" font-size="10.4" fill="#141414" stroke="#141414" stroke-width="0.30" textLength="42.2" lengthAdjust="spacingAndGlyphs">keyword</text><text x="2028.0" y="1326.8" text-anchor="middle" font-size="9.2" fill="#3e3e3e" stroke="#3e3e3e" stroke-width="0.12" letter-spacing="0.45">xsd:string</text><rect x="1962.5" y="1263.5" width="108" height="31" rx="3.5" fill="#ffffff" stroke="#333333" stroke-width="1.1"/><text x="2016.0" y="1277.2" text-anchor="middle" font-size="10.4" fill="#141414" stroke="#141414" stroke-width="0.30" textLength="42.2" lengthAdjust="spacingAndGlyphs">keyword</text><text x="2016.0" y="1287.8" text-anchor="middle" font-size="9.2" fill="#3e3e3e" stroke="#3e3e3e" stroke-width="0.12" letter-spacing="0.45">xsd:string</text><rect x="1989.5" y="1224.5" width="108" height="31" rx="3.5" fill="#ffffff" stroke="#333333" stroke-width="1.1"/><text x="2043.0" y="1238.2" text-anchor="middle" font-size="10.4" fill="#141414" stroke="#141414" stroke-width="0.30" textLength="18.3" lengthAdjust="spacingAndGlyphs">text</text><text x="2043.0" y="1248.8" text-anchor="middle" font-size="9.2" fill="#3e3e3e" stroke="#3e3e3e" stroke-width="0.12" letter-spacing="0.45">xsd:string</text><rect x="1969.5" y="1181.5" width="108" height="31" rx="3.5" fill="#ffffff" stroke="#333333" stroke-width="1.1"/><text x="2023.0" y="1195.2" text-anchor="middle" font-size="10.4" fill="#141414" stroke="#141414" stroke-width="0.30" textLength="42.2" lengthAdjust="spacingAndGlyphs">keyword</text><text x="2023.0" y="1205.8" text-anchor="middle" font-size="9.2" fill="#3e3e3e" stroke="#3e3e3e" stroke-width="0.12" letter-spacing="0.45">xsd:string</text><rect x="1929.5" y="1139.5" width="108" height="31" rx="3.5" fill="#ffffff" stroke="#333333" stroke-width="1.1"/><text x="1983.0" y="1153.2" text-anchor="middle" font-size="10.4" fill="#141414" stroke="#141414" stroke-width="0.30" textLength="18.3" lengthAdjust="spacingAndGlyphs">text</text><text x="1983.0" y="1163.8" text-anchor="middle" font-size="9.2" fill="#3e3e3e" stroke="#3e3e3e" stroke-width="0.12" letter-spacing="0.45">xsd:string</text><rect x="1899.5" y="1098.5" width="108" height="31" rx="3.5" fill="#ffffff" stroke="#333333" stroke-width="1.1"/><text x="1953.0" y="1112.2" text-anchor="middle" font-size="10.4" fill="#141414" stroke="#141414" stroke-width="0.30" textLength="42.2" lengthAdjust="spacingAndGlyphs">keyword</text><text x="1953.0" y="1122.8" text-anchor="middle" font-size="9.2" fill="#3e3e3e" stroke="#3e3e3e" stroke-width="0.12" letter-spacing="0.45">xsd:string</text><rect x="1868.5" y="1053.5" width="108" height="31" rx="3.5" fill="#ffffff" stroke="#333333" stroke-width="1.1"/><text x="1922.0" y="1067.2" text-anchor="middle" font-size="10.4" fill="#141414" stroke="#141414" stroke-width="0.30" textLength="18.3" lengthAdjust="spacingAndGlyphs">text</text><text x="1922.0" y="1077.8" text-anchor="middle" font-size="9.2" fill="#3e3e3e" stroke="#3e3e3e" stroke-width="0.12" letter-spacing="0.45">xsd:string</text></g></svg></body></html>
